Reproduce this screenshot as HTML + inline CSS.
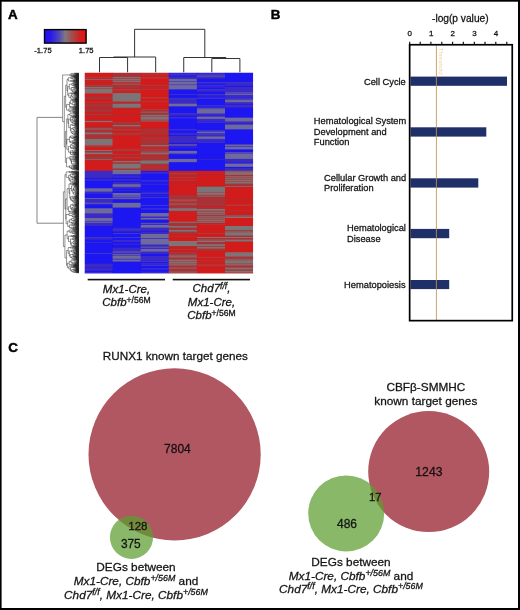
<!DOCTYPE html>
<html><head><meta charset="utf-8">
<style>
html,body{margin:0;padding:0;background:#fff;width:520px;height:610px;overflow:hidden}
svg{display:block;will-change:transform}
text{font-family:"Liberation Sans",sans-serif;fill:#141414;stroke:#141414;stroke-width:0.28px}
.b{font-weight:bold;fill:#000;stroke:#000;stroke-width:0.45px}
.i{font-style:italic}
</style></head><body>
<svg width="520" height="610" viewBox="0 0 520 610">
<defs>
<linearGradient id="cb" x1="0" x2="1" y1="0" y2="0">
<stop offset="0" stop-color="#2010f4"/>
<stop offset="0.15" stop-color="#2a18ec"/>
<stop offset="0.35" stop-color="#5048b8"/>
<stop offset="0.5" stop-color="#807880"/>
<stop offset="0.65" stop-color="#a05050"/>
<stop offset="0.85" stop-color="#d02020"/>
<stop offset="1" stop-color="#e81010"/>
</linearGradient>
</defs>
<rect width="520" height="610" fill="#fff"/>

<!-- ===== Panel A ===== -->
<text class="b" x="8.1" y="18.8" font-size="13.4">A</text>
<rect x="44.5" y="29.6" width="41.6" height="13.5" fill="url(#cb)" stroke="#000" stroke-width="1.4"/>
<text x="34.3" y="52.6" font-size="7.6">-1.75</text>
<text x="93.6" y="52.6" font-size="7.6" text-anchor="end">1.75</text>

<clipPath id="hc"><rect x="84.5" y="72.5" width="168.60" height="200.90"/></clipPath>
<filter id="hb" x="-0.05" y="-0.05" width="1.1" height="1.1"><feGaussianBlur stdDeviation="0.45"/></filter>
<g clip-path="url(#hc)"><g filter="url(#hb)">
<rect x="84.50" y="72.50" width="28.70" height="4.50" fill="#d21a1c"/>
<rect x="84.50" y="76.50" width="28.70" height="1.30" fill="#a83234"/>
<rect x="84.50" y="77.30" width="28.70" height="2.10" fill="#d21a1c"/>
<rect x="84.50" y="78.90" width="28.70" height="1.30" fill="#7c7478"/>
<rect x="84.50" y="79.70" width="28.70" height="1.30" fill="#a83234"/>
<rect x="84.50" y="80.50" width="28.70" height="3.70" fill="#d21a1c"/>
<rect x="84.50" y="83.70" width="28.70" height="1.30" fill="#a83234"/>
<rect x="84.50" y="84.50" width="28.70" height="1.30" fill="#d21a1c"/>
<rect x="84.50" y="85.30" width="28.70" height="2.10" fill="#a83234"/>
<rect x="84.50" y="86.90" width="28.70" height="2.10" fill="#7c7478"/>
<rect x="84.50" y="88.50" width="28.70" height="1.30" fill="#a83234"/>
<rect x="84.50" y="89.30" width="28.70" height="4.50" fill="#7c7478"/>
<rect x="84.50" y="93.30" width="28.70" height="3.70" fill="#d21a1c"/>
<rect x="84.50" y="96.50" width="28.70" height="3.70" fill="#a83234"/>
<rect x="84.50" y="99.70" width="28.70" height="2.90" fill="#d21a1c"/>
<rect x="84.50" y="102.10" width="28.70" height="1.30" fill="#a83234"/>
<rect x="84.50" y="102.90" width="28.70" height="1.30" fill="#d21a1c"/>
<rect x="84.50" y="103.70" width="28.70" height="4.50" fill="#a83234"/>
<rect x="84.50" y="107.70" width="28.70" height="1.30" fill="#d21a1c"/>
<rect x="84.50" y="108.50" width="28.70" height="4.50" fill="#a83234"/>
<rect x="84.50" y="112.50" width="28.70" height="2.10" fill="#d21a1c"/>
<rect x="84.50" y="114.10" width="28.70" height="2.10" fill="#a83234"/>
<rect x="84.50" y="115.70" width="28.70" height="4.50" fill="#d21a1c"/>
<rect x="84.50" y="119.70" width="28.70" height="2.10" fill="#a83234"/>
<rect x="84.50" y="121.30" width="28.70" height="1.30" fill="#7c7478"/>
<rect x="84.50" y="122.10" width="28.70" height="5.30" fill="#d21a1c"/>
<rect x="84.50" y="126.90" width="28.70" height="2.10" fill="#a83234"/>
<rect x="84.50" y="128.50" width="28.70" height="1.30" fill="#7c7478"/>
<rect x="84.50" y="129.30" width="28.70" height="3.70" fill="#a83234"/>
<rect x="84.50" y="132.50" width="28.70" height="2.10" fill="#7c7478"/>
<rect x="84.50" y="134.10" width="28.70" height="5.30" fill="#a83234"/>
<rect x="84.50" y="138.90" width="28.70" height="6.90" fill="#7c7478"/>
<rect x="84.50" y="145.30" width="28.70" height="1.30" fill="#d21a1c"/>
<rect x="84.50" y="146.10" width="28.70" height="2.10" fill="#a83234"/>
<rect x="84.50" y="147.70" width="28.70" height="2.90" fill="#d21a1c"/>
<rect x="84.50" y="150.10" width="28.70" height="1.30" fill="#7c7478"/>
<rect x="84.50" y="150.90" width="28.70" height="2.10" fill="#a83234"/>
<rect x="84.50" y="152.50" width="28.70" height="2.10" fill="#7c7478"/>
<rect x="84.50" y="154.10" width="28.70" height="1.30" fill="#a83234"/>
<rect x="84.50" y="154.90" width="28.70" height="1.30" fill="#d21a1c"/>
<rect x="84.50" y="155.70" width="28.70" height="3.70" fill="#a83234"/>
<rect x="84.50" y="158.90" width="28.70" height="1.30" fill="#7c7478"/>
<rect x="84.50" y="159.70" width="28.70" height="1.30" fill="#a83234"/>
<rect x="84.50" y="160.50" width="28.70" height="10.80" fill="#d21a1c"/>
<rect x="112.60" y="72.50" width="28.70" height="5.30" fill="#a83234"/>
<rect x="112.60" y="77.30" width="28.70" height="1.30" fill="#7c7478"/>
<rect x="112.60" y="78.10" width="28.70" height="1.30" fill="#a83234"/>
<rect x="112.60" y="78.90" width="28.70" height="2.10" fill="#7c7478"/>
<rect x="112.60" y="80.50" width="28.70" height="1.30" fill="#a83234"/>
<rect x="112.60" y="81.30" width="28.70" height="1.30" fill="#7c7478"/>
<rect x="112.60" y="82.10" width="28.70" height="1.30" fill="#d21a1c"/>
<rect x="112.60" y="82.90" width="28.70" height="1.30" fill="#a83234"/>
<rect x="112.60" y="83.70" width="28.70" height="1.30" fill="#7c7478"/>
<rect x="112.60" y="84.50" width="28.70" height="4.50" fill="#a83234"/>
<rect x="112.60" y="88.50" width="28.70" height="1.30" fill="#d21a1c"/>
<rect x="112.60" y="89.30" width="28.70" height="1.30" fill="#a83234"/>
<rect x="112.60" y="90.10" width="28.70" height="1.30" fill="#d21a1c"/>
<rect x="112.60" y="90.90" width="28.70" height="2.10" fill="#a83234"/>
<rect x="112.60" y="92.50" width="28.70" height="1.30" fill="#d21a1c"/>
<rect x="112.60" y="93.30" width="28.70" height="8.50" fill="#7c7478"/>
<rect x="112.60" y="101.30" width="28.70" height="2.10" fill="#a83234"/>
<rect x="112.60" y="102.90" width="28.70" height="1.30" fill="#d21a1c"/>
<rect x="112.60" y="103.70" width="28.70" height="4.50" fill="#7c7478"/>
<rect x="112.60" y="107.70" width="28.70" height="1.30" fill="#a83234"/>
<rect x="112.60" y="108.50" width="28.70" height="6.90" fill="#d21a1c"/>
<rect x="112.60" y="114.90" width="28.70" height="1.30" fill="#a83234"/>
<rect x="112.60" y="115.70" width="28.70" height="6.90" fill="#d21a1c"/>
<rect x="112.60" y="122.10" width="28.70" height="3.70" fill="#a83234"/>
<rect x="112.60" y="125.30" width="28.70" height="1.30" fill="#7c7478"/>
<rect x="112.60" y="126.10" width="28.70" height="2.90" fill="#a83234"/>
<rect x="112.60" y="128.50" width="28.70" height="1.30" fill="#d21a1c"/>
<rect x="112.60" y="129.30" width="28.70" height="1.30" fill="#a83234"/>
<rect x="112.60" y="130.10" width="28.70" height="1.30" fill="#d21a1c"/>
<rect x="112.60" y="130.90" width="28.70" height="1.30" fill="#a83234"/>
<rect x="112.60" y="131.70" width="28.70" height="1.30" fill="#d21a1c"/>
<rect x="112.60" y="132.50" width="28.70" height="1.30" fill="#a83234"/>
<rect x="112.60" y="133.30" width="28.70" height="1.30" fill="#d21a1c"/>
<rect x="112.60" y="134.10" width="28.70" height="2.10" fill="#a83234"/>
<rect x="112.60" y="135.70" width="28.70" height="13.30" fill="#d21a1c"/>
<rect x="112.60" y="148.50" width="28.70" height="1.30" fill="#a83234"/>
<rect x="112.60" y="149.30" width="28.70" height="1.30" fill="#d21a1c"/>
<rect x="112.60" y="150.10" width="28.70" height="2.10" fill="#a83234"/>
<rect x="112.60" y="151.70" width="28.70" height="2.90" fill="#d21a1c"/>
<rect x="112.60" y="154.10" width="28.70" height="2.10" fill="#a83234"/>
<rect x="112.60" y="155.70" width="28.70" height="2.10" fill="#d21a1c"/>
<rect x="112.60" y="157.30" width="28.70" height="2.10" fill="#a83234"/>
<rect x="112.60" y="158.90" width="28.70" height="2.10" fill="#d21a1c"/>
<rect x="112.60" y="160.50" width="28.70" height="1.30" fill="#a83234"/>
<rect x="112.60" y="161.30" width="28.70" height="1.30" fill="#7c7478"/>
<rect x="112.60" y="162.10" width="28.70" height="2.10" fill="#a83234"/>
<rect x="112.60" y="163.70" width="28.70" height="5.30" fill="#7c7478"/>
<rect x="112.60" y="168.50" width="28.70" height="2.10" fill="#a83234"/>
<rect x="112.60" y="170.10" width="28.70" height="1.20" fill="#7c7478"/>
<rect x="140.70" y="72.50" width="28.70" height="2.10" fill="#a83234"/>
<rect x="140.70" y="74.10" width="28.70" height="2.10" fill="#d21a1c"/>
<rect x="140.70" y="75.70" width="28.70" height="1.30" fill="#a83234"/>
<rect x="140.70" y="76.50" width="28.70" height="1.30" fill="#d21a1c"/>
<rect x="140.70" y="77.30" width="28.70" height="1.30" fill="#a83234"/>
<rect x="140.70" y="78.10" width="28.70" height="6.90" fill="#d21a1c"/>
<rect x="140.70" y="84.50" width="28.70" height="1.30" fill="#a83234"/>
<rect x="140.70" y="85.30" width="28.70" height="2.10" fill="#d21a1c"/>
<rect x="140.70" y="86.90" width="28.70" height="1.30" fill="#a83234"/>
<rect x="140.70" y="87.70" width="28.70" height="1.30" fill="#d21a1c"/>
<rect x="140.70" y="88.50" width="28.70" height="1.30" fill="#a83234"/>
<rect x="140.70" y="89.30" width="28.70" height="8.50" fill="#d21a1c"/>
<rect x="140.70" y="97.30" width="28.70" height="1.30" fill="#a83234"/>
<rect x="140.70" y="98.10" width="28.70" height="2.90" fill="#d21a1c"/>
<rect x="140.70" y="100.50" width="28.70" height="1.30" fill="#a83234"/>
<rect x="140.70" y="101.30" width="28.70" height="8.50" fill="#d21a1c"/>
<rect x="140.70" y="109.30" width="28.70" height="2.90" fill="#a83234"/>
<rect x="140.70" y="111.70" width="28.70" height="1.30" fill="#7c7478"/>
<rect x="140.70" y="112.50" width="28.70" height="2.90" fill="#a83234"/>
<rect x="140.70" y="114.90" width="28.70" height="2.10" fill="#7c7478"/>
<rect x="140.70" y="116.50" width="28.70" height="1.30" fill="#a83234"/>
<rect x="140.70" y="117.30" width="28.70" height="2.90" fill="#7c7478"/>
<rect x="140.70" y="119.70" width="28.70" height="1.30" fill="#a83234"/>
<rect x="140.70" y="120.50" width="28.70" height="1.30" fill="#7c7478"/>
<rect x="140.70" y="121.30" width="28.70" height="7.70" fill="#d21a1c"/>
<rect x="140.70" y="128.50" width="28.70" height="2.10" fill="#a83234"/>
<rect x="140.70" y="130.10" width="28.70" height="1.30" fill="#d21a1c"/>
<rect x="140.70" y="130.90" width="28.70" height="4.50" fill="#a83234"/>
<rect x="140.70" y="134.90" width="28.70" height="2.10" fill="#d21a1c"/>
<rect x="140.70" y="136.50" width="28.70" height="2.10" fill="#a83234"/>
<rect x="140.70" y="138.10" width="28.70" height="1.30" fill="#d21a1c"/>
<rect x="140.70" y="138.90" width="28.70" height="6.90" fill="#a83234"/>
<rect x="140.70" y="145.30" width="28.70" height="1.30" fill="#7c7478"/>
<rect x="140.70" y="146.10" width="28.70" height="3.70" fill="#a83234"/>
<rect x="140.70" y="149.30" width="28.70" height="1.30" fill="#d21a1c"/>
<rect x="140.70" y="150.10" width="28.70" height="2.10" fill="#a83234"/>
<rect x="140.70" y="151.70" width="28.70" height="1.30" fill="#7c7478"/>
<rect x="140.70" y="152.50" width="28.70" height="1.30" fill="#a83234"/>
<rect x="140.70" y="153.30" width="28.70" height="1.30" fill="#7c7478"/>
<rect x="140.70" y="154.10" width="28.70" height="6.90" fill="#a83234"/>
<rect x="140.70" y="160.50" width="28.70" height="3.70" fill="#7c7478"/>
<rect x="140.70" y="163.70" width="28.70" height="2.90" fill="#a83234"/>
<rect x="140.70" y="166.10" width="28.70" height="1.30" fill="#d21a1c"/>
<rect x="140.70" y="166.90" width="28.70" height="3.70" fill="#a83234"/>
<rect x="140.70" y="170.10" width="28.70" height="1.20" fill="#d21a1c"/>
<rect x="168.80" y="72.50" width="28.70" height="1.30" fill="#3a2cc4"/>
<rect x="168.80" y="73.30" width="28.70" height="1.30" fill="#1c12f0"/>
<rect x="168.80" y="74.10" width="28.70" height="2.10" fill="#3a2cc4"/>
<rect x="168.80" y="75.70" width="28.70" height="1.30" fill="#1c12f0"/>
<rect x="168.80" y="76.50" width="28.70" height="2.90" fill="#3a2cc4"/>
<rect x="168.80" y="78.90" width="28.70" height="2.90" fill="#6e6a9a"/>
<rect x="168.80" y="81.30" width="28.70" height="1.30" fill="#3a2cc4"/>
<rect x="168.80" y="82.10" width="28.70" height="2.90" fill="#6e6a9a"/>
<rect x="168.80" y="84.50" width="28.70" height="1.30" fill="#3a2cc4"/>
<rect x="168.80" y="85.30" width="28.70" height="4.50" fill="#6e6a9a"/>
<rect x="168.80" y="89.30" width="28.70" height="5.30" fill="#1c12f0"/>
<rect x="168.80" y="94.10" width="28.70" height="1.30" fill="#3a2cc4"/>
<rect x="168.80" y="94.90" width="28.70" height="3.70" fill="#1c12f0"/>
<rect x="168.80" y="98.10" width="28.70" height="6.10" fill="#3a2cc4"/>
<rect x="168.80" y="103.70" width="28.70" height="2.90" fill="#6e6a9a"/>
<rect x="168.80" y="106.10" width="28.70" height="1.30" fill="#3a2cc4"/>
<rect x="168.80" y="106.90" width="28.70" height="6.90" fill="#1c12f0"/>
<rect x="168.80" y="113.30" width="28.70" height="2.90" fill="#3a2cc4"/>
<rect x="168.80" y="115.70" width="28.70" height="2.10" fill="#1c12f0"/>
<rect x="168.80" y="117.30" width="28.70" height="1.30" fill="#3a2cc4"/>
<rect x="168.80" y="118.10" width="28.70" height="11.70" fill="#1c12f0"/>
<rect x="168.80" y="129.30" width="28.70" height="1.30" fill="#3a2cc4"/>
<rect x="168.80" y="130.10" width="28.70" height="2.90" fill="#1c12f0"/>
<rect x="168.80" y="132.50" width="28.70" height="1.30" fill="#3a2cc4"/>
<rect x="168.80" y="133.30" width="28.70" height="1.30" fill="#1c12f0"/>
<rect x="168.80" y="134.10" width="28.70" height="1.30" fill="#3a2cc4"/>
<rect x="168.80" y="134.90" width="28.70" height="1.30" fill="#1c12f0"/>
<rect x="168.80" y="135.70" width="28.70" height="7.70" fill="#3a2cc4"/>
<rect x="168.80" y="142.90" width="28.70" height="1.30" fill="#1c12f0"/>
<rect x="168.80" y="143.70" width="28.70" height="1.30" fill="#3a2cc4"/>
<rect x="168.80" y="144.50" width="28.70" height="1.30" fill="#6e6a9a"/>
<rect x="168.80" y="145.30" width="28.70" height="1.30" fill="#3a2cc4"/>
<rect x="168.80" y="146.10" width="28.70" height="1.30" fill="#1c12f0"/>
<rect x="168.80" y="146.90" width="28.70" height="1.30" fill="#3a2cc4"/>
<rect x="168.80" y="147.70" width="28.70" height="3.70" fill="#1c12f0"/>
<rect x="168.80" y="150.90" width="28.70" height="2.90" fill="#6e6a9a"/>
<rect x="168.80" y="153.30" width="28.70" height="1.30" fill="#3a2cc4"/>
<rect x="168.80" y="154.10" width="28.70" height="5.30" fill="#1c12f0"/>
<rect x="168.80" y="158.90" width="28.70" height="3.70" fill="#6e6a9a"/>
<rect x="168.80" y="162.10" width="28.70" height="9.20" fill="#1c12f0"/>
<rect x="196.90" y="72.50" width="28.70" height="1.30" fill="#3a2cc4"/>
<rect x="196.90" y="73.30" width="28.70" height="1.30" fill="#1c12f0"/>
<rect x="196.90" y="74.10" width="28.70" height="2.10" fill="#3a2cc4"/>
<rect x="196.90" y="75.70" width="28.70" height="1.30" fill="#6e6a9a"/>
<rect x="196.90" y="76.50" width="28.70" height="2.90" fill="#3a2cc4"/>
<rect x="196.90" y="78.90" width="28.70" height="3.70" fill="#1c12f0"/>
<rect x="196.90" y="82.10" width="28.70" height="2.10" fill="#3a2cc4"/>
<rect x="196.90" y="83.70" width="28.70" height="2.10" fill="#1c12f0"/>
<rect x="196.90" y="85.30" width="28.70" height="1.30" fill="#3a2cc4"/>
<rect x="196.90" y="86.10" width="28.70" height="1.30" fill="#1c12f0"/>
<rect x="196.90" y="86.90" width="28.70" height="1.30" fill="#3a2cc4"/>
<rect x="196.90" y="87.70" width="28.70" height="2.10" fill="#1c12f0"/>
<rect x="196.90" y="89.30" width="28.70" height="2.90" fill="#3a2cc4"/>
<rect x="196.90" y="91.70" width="28.70" height="2.90" fill="#1c12f0"/>
<rect x="196.90" y="94.10" width="28.70" height="2.10" fill="#3a2cc4"/>
<rect x="196.90" y="95.70" width="28.70" height="1.30" fill="#1c12f0"/>
<rect x="196.90" y="96.50" width="28.70" height="1.30" fill="#3a2cc4"/>
<rect x="196.90" y="97.30" width="28.70" height="1.30" fill="#1c12f0"/>
<rect x="196.90" y="98.10" width="28.70" height="1.30" fill="#3a2cc4"/>
<rect x="196.90" y="98.90" width="28.70" height="6.90" fill="#1c12f0"/>
<rect x="196.90" y="105.30" width="28.70" height="1.30" fill="#3a2cc4"/>
<rect x="196.90" y="106.10" width="28.70" height="2.10" fill="#1c12f0"/>
<rect x="196.90" y="107.70" width="28.70" height="1.30" fill="#6e6a9a"/>
<rect x="196.90" y="108.50" width="28.70" height="1.30" fill="#3a2cc4"/>
<rect x="196.90" y="109.30" width="28.70" height="4.50" fill="#6e6a9a"/>
<rect x="196.90" y="113.30" width="28.70" height="2.90" fill="#3a2cc4"/>
<rect x="196.90" y="115.70" width="28.70" height="1.30" fill="#1c12f0"/>
<rect x="196.90" y="116.50" width="28.70" height="2.90" fill="#6e6a9a"/>
<rect x="196.90" y="118.90" width="28.70" height="2.90" fill="#3a2cc4"/>
<rect x="196.90" y="121.30" width="28.70" height="1.30" fill="#1c12f0"/>
<rect x="196.90" y="122.10" width="28.70" height="1.30" fill="#3a2cc4"/>
<rect x="196.90" y="122.90" width="28.70" height="7.70" fill="#1c12f0"/>
<rect x="196.90" y="130.10" width="28.70" height="2.10" fill="#3a2cc4"/>
<rect x="196.90" y="131.70" width="28.70" height="2.10" fill="#6e6a9a"/>
<rect x="196.90" y="133.30" width="28.70" height="1.30" fill="#1c12f0"/>
<rect x="196.90" y="134.10" width="28.70" height="2.90" fill="#3a2cc4"/>
<rect x="196.90" y="136.50" width="28.70" height="2.90" fill="#6e6a9a"/>
<rect x="196.90" y="138.90" width="28.70" height="2.90" fill="#3a2cc4"/>
<rect x="196.90" y="141.30" width="28.70" height="1.30" fill="#1c12f0"/>
<rect x="196.90" y="142.10" width="28.70" height="1.30" fill="#3a2cc4"/>
<rect x="196.90" y="142.90" width="28.70" height="16.50" fill="#1c12f0"/>
<rect x="196.90" y="158.90" width="28.70" height="1.30" fill="#3a2cc4"/>
<rect x="196.90" y="159.70" width="28.70" height="11.60" fill="#1c12f0"/>
<rect x="225.00" y="72.50" width="28.70" height="10.10" fill="#1c12f0"/>
<rect x="225.00" y="82.10" width="28.70" height="3.70" fill="#3a2cc4"/>
<rect x="225.00" y="85.30" width="28.70" height="2.10" fill="#1c12f0"/>
<rect x="225.00" y="86.90" width="28.70" height="6.10" fill="#3a2cc4"/>
<rect x="225.00" y="92.50" width="28.70" height="1.30" fill="#6e6a9a"/>
<rect x="225.00" y="93.30" width="28.70" height="1.30" fill="#3a2cc4"/>
<rect x="225.00" y="94.10" width="28.70" height="1.30" fill="#6e6a9a"/>
<rect x="225.00" y="94.90" width="28.70" height="2.90" fill="#3a2cc4"/>
<rect x="225.00" y="97.30" width="28.70" height="1.30" fill="#1c12f0"/>
<rect x="225.00" y="98.10" width="28.70" height="2.10" fill="#3a2cc4"/>
<rect x="225.00" y="99.70" width="28.70" height="2.90" fill="#6e6a9a"/>
<rect x="225.00" y="102.10" width="28.70" height="2.90" fill="#3a2cc4"/>
<rect x="225.00" y="104.50" width="28.70" height="1.30" fill="#1c12f0"/>
<rect x="225.00" y="105.30" width="28.70" height="2.90" fill="#3a2cc4"/>
<rect x="225.00" y="107.70" width="28.70" height="10.10" fill="#1c12f0"/>
<rect x="225.00" y="117.30" width="28.70" height="1.30" fill="#3a2cc4"/>
<rect x="225.00" y="118.10" width="28.70" height="3.70" fill="#6e6a9a"/>
<rect x="225.00" y="121.30" width="28.70" height="2.90" fill="#3a2cc4"/>
<rect x="225.00" y="123.70" width="28.70" height="1.30" fill="#1c12f0"/>
<rect x="225.00" y="124.50" width="28.70" height="5.30" fill="#6e6a9a"/>
<rect x="225.00" y="129.30" width="28.70" height="15.70" fill="#1c12f0"/>
<rect x="225.00" y="144.50" width="28.70" height="2.10" fill="#6e6a9a"/>
<rect x="225.00" y="146.10" width="28.70" height="1.30" fill="#3a2cc4"/>
<rect x="225.00" y="146.90" width="28.70" height="2.90" fill="#6e6a9a"/>
<rect x="225.00" y="149.30" width="28.70" height="2.90" fill="#1c12f0"/>
<rect x="225.00" y="151.70" width="28.70" height="1.30" fill="#3a2cc4"/>
<rect x="225.00" y="152.50" width="28.70" height="1.30" fill="#6e6a9a"/>
<rect x="225.00" y="153.30" width="28.70" height="1.30" fill="#3a2cc4"/>
<rect x="225.00" y="154.10" width="28.70" height="5.30" fill="#6e6a9a"/>
<rect x="225.00" y="158.90" width="28.70" height="3.70" fill="#3a2cc4"/>
<rect x="225.00" y="162.10" width="28.70" height="1.30" fill="#1c12f0"/>
<rect x="225.00" y="162.90" width="28.70" height="1.30" fill="#3a2cc4"/>
<rect x="225.00" y="163.70" width="28.70" height="3.70" fill="#6e6a9a"/>
<rect x="225.00" y="166.90" width="28.70" height="1.30" fill="#1c12f0"/>
<rect x="225.00" y="167.70" width="28.70" height="3.60" fill="#3a2cc4"/>
<rect x="84.50" y="170.80" width="28.70" height="7.70" fill="#3a2cc4"/>
<rect x="84.50" y="178.00" width="28.70" height="1.30" fill="#1c12f0"/>
<rect x="84.50" y="178.80" width="28.70" height="2.10" fill="#3a2cc4"/>
<rect x="84.50" y="180.40" width="28.70" height="8.50" fill="#1c12f0"/>
<rect x="84.50" y="188.40" width="28.70" height="3.70" fill="#6e6a9a"/>
<rect x="84.50" y="191.60" width="28.70" height="2.10" fill="#3a2cc4"/>
<rect x="84.50" y="193.20" width="28.70" height="5.30" fill="#1c12f0"/>
<rect x="84.50" y="198.00" width="28.70" height="1.30" fill="#6e6a9a"/>
<rect x="84.50" y="198.80" width="28.70" height="4.50" fill="#3a2cc4"/>
<rect x="84.50" y="202.80" width="28.70" height="1.30" fill="#6e6a9a"/>
<rect x="84.50" y="203.60" width="28.70" height="1.30" fill="#3a2cc4"/>
<rect x="84.50" y="204.40" width="28.70" height="4.50" fill="#1c12f0"/>
<rect x="84.50" y="208.40" width="28.70" height="5.30" fill="#6e6a9a"/>
<rect x="84.50" y="213.20" width="28.70" height="5.30" fill="#3a2cc4"/>
<rect x="84.50" y="218.00" width="28.70" height="3.70" fill="#6e6a9a"/>
<rect x="84.50" y="221.20" width="28.70" height="1.30" fill="#3a2cc4"/>
<rect x="84.50" y="222.00" width="28.70" height="1.30" fill="#6e6a9a"/>
<rect x="84.50" y="222.80" width="28.70" height="3.70" fill="#3a2cc4"/>
<rect x="84.50" y="226.00" width="28.70" height="11.70" fill="#1c12f0"/>
<rect x="84.50" y="237.20" width="28.70" height="2.90" fill="#3a2cc4"/>
<rect x="84.50" y="239.60" width="28.70" height="2.90" fill="#1c12f0"/>
<rect x="84.50" y="242.00" width="28.70" height="1.30" fill="#3a2cc4"/>
<rect x="84.50" y="242.80" width="28.70" height="10.90" fill="#1c12f0"/>
<rect x="84.50" y="253.20" width="28.70" height="1.30" fill="#3a2cc4"/>
<rect x="84.50" y="254.00" width="28.70" height="10.10" fill="#1c12f0"/>
<rect x="84.50" y="263.60" width="28.70" height="4.50" fill="#3a2cc4"/>
<rect x="84.50" y="267.60" width="28.70" height="1.30" fill="#1c12f0"/>
<rect x="84.50" y="268.40" width="28.70" height="2.90" fill="#3a2cc4"/>
<rect x="84.50" y="270.80" width="28.70" height="2.10" fill="#1c12f0"/>
<rect x="84.50" y="272.40" width="28.70" height="1.30" fill="#3a2cc4"/>
<rect x="84.50" y="273.20" width="28.70" height="0.70" fill="#1c12f0"/>
<rect x="112.60" y="170.80" width="28.70" height="3.70" fill="#6e6a9a"/>
<rect x="112.60" y="174.00" width="28.70" height="2.10" fill="#3a2cc4"/>
<rect x="112.60" y="175.60" width="28.70" height="1.30" fill="#1c12f0"/>
<rect x="112.60" y="176.40" width="28.70" height="1.30" fill="#3a2cc4"/>
<rect x="112.60" y="177.20" width="28.70" height="2.10" fill="#1c12f0"/>
<rect x="112.60" y="178.80" width="28.70" height="2.10" fill="#3a2cc4"/>
<rect x="112.60" y="180.40" width="28.70" height="2.10" fill="#1c12f0"/>
<rect x="112.60" y="182.00" width="28.70" height="2.90" fill="#3a2cc4"/>
<rect x="112.60" y="184.40" width="28.70" height="2.90" fill="#6e6a9a"/>
<rect x="112.60" y="186.80" width="28.70" height="2.10" fill="#3a2cc4"/>
<rect x="112.60" y="188.40" width="28.70" height="2.10" fill="#1c12f0"/>
<rect x="112.60" y="190.00" width="28.70" height="1.30" fill="#3a2cc4"/>
<rect x="112.60" y="190.80" width="28.70" height="2.90" fill="#1c12f0"/>
<rect x="112.60" y="193.20" width="28.70" height="2.90" fill="#6e6a9a"/>
<rect x="112.60" y="195.60" width="28.70" height="1.30" fill="#3a2cc4"/>
<rect x="112.60" y="196.40" width="28.70" height="1.30" fill="#6e6a9a"/>
<rect x="112.60" y="197.20" width="28.70" height="1.30" fill="#3a2cc4"/>
<rect x="112.60" y="198.00" width="28.70" height="1.30" fill="#6e6a9a"/>
<rect x="112.60" y="198.80" width="28.70" height="1.30" fill="#3a2cc4"/>
<rect x="112.60" y="199.60" width="28.70" height="3.70" fill="#1c12f0"/>
<rect x="112.60" y="202.80" width="28.70" height="5.30" fill="#6e6a9a"/>
<rect x="112.60" y="207.60" width="28.70" height="20.50" fill="#1c12f0"/>
<rect x="112.60" y="227.60" width="28.70" height="1.30" fill="#3a2cc4"/>
<rect x="112.60" y="228.40" width="28.70" height="1.30" fill="#1c12f0"/>
<rect x="112.60" y="229.20" width="28.70" height="2.90" fill="#3a2cc4"/>
<rect x="112.60" y="231.60" width="28.70" height="2.10" fill="#1c12f0"/>
<rect x="112.60" y="233.20" width="28.70" height="1.30" fill="#3a2cc4"/>
<rect x="112.60" y="234.00" width="28.70" height="3.70" fill="#1c12f0"/>
<rect x="112.60" y="237.20" width="28.70" height="1.30" fill="#3a2cc4"/>
<rect x="112.60" y="238.00" width="28.70" height="2.90" fill="#1c12f0"/>
<rect x="112.60" y="240.40" width="28.70" height="2.10" fill="#3a2cc4"/>
<rect x="112.60" y="242.00" width="28.70" height="2.10" fill="#1c12f0"/>
<rect x="112.60" y="243.60" width="28.70" height="1.30" fill="#3a2cc4"/>
<rect x="112.60" y="244.40" width="28.70" height="3.70" fill="#1c12f0"/>
<rect x="112.60" y="247.60" width="28.70" height="4.50" fill="#3a2cc4"/>
<rect x="112.60" y="251.60" width="28.70" height="1.30" fill="#6e6a9a"/>
<rect x="112.60" y="252.40" width="28.70" height="2.10" fill="#3a2cc4"/>
<rect x="112.60" y="254.00" width="28.70" height="1.30" fill="#6e6a9a"/>
<rect x="112.60" y="254.80" width="28.70" height="1.30" fill="#3a2cc4"/>
<rect x="112.60" y="255.60" width="28.70" height="3.70" fill="#6e6a9a"/>
<rect x="112.60" y="258.80" width="28.70" height="1.30" fill="#3a2cc4"/>
<rect x="112.60" y="259.60" width="28.70" height="2.10" fill="#6e6a9a"/>
<rect x="112.60" y="261.20" width="28.70" height="1.30" fill="#3a2cc4"/>
<rect x="112.60" y="262.00" width="28.70" height="11.90" fill="#1c12f0"/>
<rect x="140.70" y="170.80" width="28.70" height="1.30" fill="#1c12f0"/>
<rect x="140.70" y="171.60" width="28.70" height="2.10" fill="#3a2cc4"/>
<rect x="140.70" y="173.20" width="28.70" height="7.70" fill="#1c12f0"/>
<rect x="140.70" y="180.40" width="28.70" height="1.30" fill="#3a2cc4"/>
<rect x="140.70" y="181.20" width="28.70" height="2.90" fill="#1c12f0"/>
<rect x="140.70" y="183.60" width="28.70" height="1.30" fill="#3a2cc4"/>
<rect x="140.70" y="184.40" width="28.70" height="7.70" fill="#1c12f0"/>
<rect x="140.70" y="191.60" width="28.70" height="1.30" fill="#3a2cc4"/>
<rect x="140.70" y="192.40" width="28.70" height="1.30" fill="#1c12f0"/>
<rect x="140.70" y="193.20" width="28.70" height="1.30" fill="#3a2cc4"/>
<rect x="140.70" y="194.00" width="28.70" height="1.30" fill="#1c12f0"/>
<rect x="140.70" y="194.80" width="28.70" height="1.30" fill="#3a2cc4"/>
<rect x="140.70" y="195.60" width="28.70" height="2.10" fill="#1c12f0"/>
<rect x="140.70" y="197.20" width="28.70" height="1.30" fill="#3a2cc4"/>
<rect x="140.70" y="198.00" width="28.70" height="7.70" fill="#1c12f0"/>
<rect x="140.70" y="205.20" width="28.70" height="1.30" fill="#3a2cc4"/>
<rect x="140.70" y="206.00" width="28.70" height="2.90" fill="#1c12f0"/>
<rect x="140.70" y="208.40" width="28.70" height="1.30" fill="#3a2cc4"/>
<rect x="140.70" y="209.20" width="28.70" height="4.50" fill="#1c12f0"/>
<rect x="140.70" y="213.20" width="28.70" height="3.70" fill="#6e6a9a"/>
<rect x="140.70" y="216.40" width="28.70" height="2.10" fill="#3a2cc4"/>
<rect x="140.70" y="218.00" width="28.70" height="2.10" fill="#6e6a9a"/>
<rect x="140.70" y="219.60" width="28.70" height="3.70" fill="#1c12f0"/>
<rect x="140.70" y="222.80" width="28.70" height="1.30" fill="#6e6a9a"/>
<rect x="140.70" y="223.60" width="28.70" height="2.10" fill="#3a2cc4"/>
<rect x="140.70" y="225.20" width="28.70" height="2.90" fill="#6e6a9a"/>
<rect x="140.70" y="227.60" width="28.70" height="3.70" fill="#3a2cc4"/>
<rect x="140.70" y="230.80" width="28.70" height="1.30" fill="#1c12f0"/>
<rect x="140.70" y="231.60" width="28.70" height="2.90" fill="#3a2cc4"/>
<rect x="140.70" y="234.00" width="28.70" height="4.50" fill="#6e6a9a"/>
<rect x="140.70" y="238.00" width="28.70" height="1.30" fill="#3a2cc4"/>
<rect x="140.70" y="238.80" width="28.70" height="6.10" fill="#6e6a9a"/>
<rect x="140.70" y="244.40" width="28.70" height="2.90" fill="#3a2cc4"/>
<rect x="140.70" y="246.80" width="28.70" height="1.30" fill="#6e6a9a"/>
<rect x="140.70" y="247.60" width="28.70" height="2.10" fill="#3a2cc4"/>
<rect x="140.70" y="249.20" width="28.70" height="2.90" fill="#6e6a9a"/>
<rect x="140.70" y="251.60" width="28.70" height="2.90" fill="#3a2cc4"/>
<rect x="140.70" y="254.00" width="28.70" height="2.90" fill="#1c12f0"/>
<rect x="140.70" y="256.40" width="28.70" height="4.50" fill="#3a2cc4"/>
<rect x="140.70" y="260.40" width="28.70" height="1.30" fill="#1c12f0"/>
<rect x="140.70" y="261.20" width="28.70" height="1.30" fill="#3a2cc4"/>
<rect x="140.70" y="262.00" width="28.70" height="1.30" fill="#1c12f0"/>
<rect x="140.70" y="262.80" width="28.70" height="2.10" fill="#3a2cc4"/>
<rect x="140.70" y="264.40" width="28.70" height="1.30" fill="#1c12f0"/>
<rect x="140.70" y="265.20" width="28.70" height="1.30" fill="#3a2cc4"/>
<rect x="140.70" y="266.00" width="28.70" height="2.90" fill="#1c12f0"/>
<rect x="140.70" y="268.40" width="28.70" height="1.30" fill="#3a2cc4"/>
<rect x="140.70" y="269.20" width="28.70" height="2.90" fill="#1c12f0"/>
<rect x="140.70" y="271.60" width="28.70" height="2.30" fill="#3a2cc4"/>
<rect x="168.80" y="170.80" width="28.70" height="1.30" fill="#a83234"/>
<rect x="168.80" y="171.60" width="28.70" height="2.10" fill="#d21a1c"/>
<rect x="168.80" y="173.20" width="28.70" height="2.90" fill="#a83234"/>
<rect x="168.80" y="175.60" width="28.70" height="2.10" fill="#d21a1c"/>
<rect x="168.80" y="177.20" width="28.70" height="1.30" fill="#a83234"/>
<rect x="168.80" y="178.00" width="28.70" height="1.30" fill="#d21a1c"/>
<rect x="168.80" y="178.80" width="28.70" height="2.10" fill="#a83234"/>
<rect x="168.80" y="180.40" width="28.70" height="2.90" fill="#d21a1c"/>
<rect x="168.80" y="182.80" width="28.70" height="1.30" fill="#a83234"/>
<rect x="168.80" y="183.60" width="28.70" height="11.70" fill="#d21a1c"/>
<rect x="168.80" y="194.80" width="28.70" height="5.30" fill="#a83234"/>
<rect x="168.80" y="199.60" width="28.70" height="1.30" fill="#7c7478"/>
<rect x="168.80" y="200.40" width="28.70" height="1.30" fill="#a83234"/>
<rect x="168.80" y="201.20" width="28.70" height="1.30" fill="#d21a1c"/>
<rect x="168.80" y="202.00" width="28.70" height="2.10" fill="#a83234"/>
<rect x="168.80" y="203.60" width="28.70" height="1.30" fill="#7c7478"/>
<rect x="168.80" y="204.40" width="28.70" height="4.50" fill="#a83234"/>
<rect x="168.80" y="208.40" width="28.70" height="2.90" fill="#7c7478"/>
<rect x="168.80" y="210.80" width="28.70" height="1.30" fill="#a83234"/>
<rect x="168.80" y="211.60" width="28.70" height="10.10" fill="#d21a1c"/>
<rect x="168.80" y="221.20" width="28.70" height="1.30" fill="#a83234"/>
<rect x="168.80" y="222.00" width="28.70" height="1.30" fill="#7c7478"/>
<rect x="168.80" y="222.80" width="28.70" height="3.70" fill="#a83234"/>
<rect x="168.80" y="226.00" width="28.70" height="2.10" fill="#7c7478"/>
<rect x="168.80" y="227.60" width="28.70" height="2.90" fill="#a83234"/>
<rect x="168.80" y="230.00" width="28.70" height="2.10" fill="#7c7478"/>
<rect x="168.80" y="231.60" width="28.70" height="2.90" fill="#a83234"/>
<rect x="168.80" y="234.00" width="28.70" height="2.10" fill="#d21a1c"/>
<rect x="168.80" y="235.60" width="28.70" height="1.30" fill="#a83234"/>
<rect x="168.80" y="236.40" width="28.70" height="5.30" fill="#d21a1c"/>
<rect x="168.80" y="241.20" width="28.70" height="5.30" fill="#7c7478"/>
<rect x="168.80" y="246.00" width="28.70" height="1.30" fill="#a83234"/>
<rect x="168.80" y="246.80" width="28.70" height="2.90" fill="#d21a1c"/>
<rect x="168.80" y="249.20" width="28.70" height="1.30" fill="#a83234"/>
<rect x="168.80" y="250.00" width="28.70" height="1.30" fill="#d21a1c"/>
<rect x="168.80" y="250.80" width="28.70" height="1.30" fill="#a83234"/>
<rect x="168.80" y="251.60" width="28.70" height="1.30" fill="#d21a1c"/>
<rect x="168.80" y="252.40" width="28.70" height="2.90" fill="#a83234"/>
<rect x="168.80" y="254.80" width="28.70" height="1.30" fill="#7c7478"/>
<rect x="168.80" y="255.60" width="28.70" height="1.30" fill="#a83234"/>
<rect x="168.80" y="256.40" width="28.70" height="1.30" fill="#7c7478"/>
<rect x="168.80" y="257.20" width="28.70" height="2.90" fill="#a83234"/>
<rect x="168.80" y="259.60" width="28.70" height="2.10" fill="#7c7478"/>
<rect x="168.80" y="261.20" width="28.70" height="1.30" fill="#a83234"/>
<rect x="168.80" y="262.00" width="28.70" height="2.10" fill="#7c7478"/>
<rect x="168.80" y="263.60" width="28.70" height="1.30" fill="#a83234"/>
<rect x="168.80" y="264.40" width="28.70" height="1.30" fill="#7c7478"/>
<rect x="168.80" y="265.20" width="28.70" height="2.90" fill="#a83234"/>
<rect x="168.80" y="267.60" width="28.70" height="1.30" fill="#7c7478"/>
<rect x="168.80" y="268.40" width="28.70" height="3.70" fill="#a83234"/>
<rect x="168.80" y="271.60" width="28.70" height="1.30" fill="#7c7478"/>
<rect x="168.80" y="272.40" width="28.70" height="1.50" fill="#a83234"/>
<rect x="196.90" y="170.80" width="28.70" height="4.50" fill="#d21a1c"/>
<rect x="196.90" y="174.80" width="28.70" height="1.30" fill="#a83234"/>
<rect x="196.90" y="175.60" width="28.70" height="10.90" fill="#d21a1c"/>
<rect x="196.90" y="186.00" width="28.70" height="1.30" fill="#a83234"/>
<rect x="196.90" y="186.80" width="28.70" height="6.10" fill="#7c7478"/>
<rect x="196.90" y="192.40" width="28.70" height="1.30" fill="#a83234"/>
<rect x="196.90" y="193.20" width="28.70" height="2.10" fill="#7c7478"/>
<rect x="196.90" y="194.80" width="28.70" height="1.30" fill="#a83234"/>
<rect x="196.90" y="195.60" width="28.70" height="1.30" fill="#7c7478"/>
<rect x="196.90" y="196.40" width="28.70" height="10.10" fill="#a83234"/>
<rect x="196.90" y="206.00" width="28.70" height="1.30" fill="#d21a1c"/>
<rect x="196.90" y="206.80" width="28.70" height="2.90" fill="#a83234"/>
<rect x="196.90" y="209.20" width="28.70" height="2.10" fill="#7c7478"/>
<rect x="196.90" y="210.80" width="28.70" height="1.30" fill="#a83234"/>
<rect x="196.90" y="211.60" width="28.70" height="2.10" fill="#7c7478"/>
<rect x="196.90" y="213.20" width="28.70" height="1.30" fill="#a83234"/>
<rect x="196.90" y="214.00" width="28.70" height="1.30" fill="#7c7478"/>
<rect x="196.90" y="214.80" width="28.70" height="2.10" fill="#a83234"/>
<rect x="196.90" y="216.40" width="28.70" height="1.30" fill="#7c7478"/>
<rect x="196.90" y="217.20" width="28.70" height="1.30" fill="#a83234"/>
<rect x="196.90" y="218.00" width="28.70" height="1.30" fill="#7c7478"/>
<rect x="196.90" y="218.80" width="28.70" height="1.30" fill="#a83234"/>
<rect x="196.90" y="219.60" width="28.70" height="2.10" fill="#7c7478"/>
<rect x="196.90" y="221.20" width="28.70" height="1.30" fill="#a83234"/>
<rect x="196.90" y="222.00" width="28.70" height="1.30" fill="#7c7478"/>
<rect x="196.90" y="222.80" width="28.70" height="1.30" fill="#d21a1c"/>
<rect x="196.90" y="223.60" width="28.70" height="1.30" fill="#a83234"/>
<rect x="196.90" y="224.40" width="28.70" height="9.30" fill="#d21a1c"/>
<rect x="196.90" y="233.20" width="28.70" height="1.30" fill="#a83234"/>
<rect x="196.90" y="234.00" width="28.70" height="3.70" fill="#d21a1c"/>
<rect x="196.90" y="237.20" width="28.70" height="1.30" fill="#7c7478"/>
<rect x="196.90" y="238.00" width="28.70" height="2.10" fill="#a83234"/>
<rect x="196.90" y="239.60" width="28.70" height="1.30" fill="#7c7478"/>
<rect x="196.90" y="240.40" width="28.70" height="1.30" fill="#a83234"/>
<rect x="196.90" y="241.20" width="28.70" height="1.30" fill="#7c7478"/>
<rect x="196.90" y="242.00" width="28.70" height="2.90" fill="#a83234"/>
<rect x="196.90" y="244.40" width="28.70" height="2.10" fill="#7c7478"/>
<rect x="196.90" y="246.00" width="28.70" height="1.30" fill="#a83234"/>
<rect x="196.90" y="246.80" width="28.70" height="2.10" fill="#7c7478"/>
<rect x="196.90" y="248.40" width="28.70" height="2.90" fill="#a83234"/>
<rect x="196.90" y="250.80" width="28.70" height="6.90" fill="#d21a1c"/>
<rect x="196.90" y="257.20" width="28.70" height="1.30" fill="#a83234"/>
<rect x="196.90" y="258.00" width="28.70" height="2.10" fill="#d21a1c"/>
<rect x="196.90" y="259.60" width="28.70" height="1.30" fill="#a83234"/>
<rect x="196.90" y="260.40" width="28.70" height="2.10" fill="#d21a1c"/>
<rect x="196.90" y="262.00" width="28.70" height="1.30" fill="#a83234"/>
<rect x="196.90" y="262.80" width="28.70" height="2.10" fill="#d21a1c"/>
<rect x="196.90" y="264.40" width="28.70" height="1.30" fill="#a83234"/>
<rect x="196.90" y="265.20" width="28.70" height="1.30" fill="#d21a1c"/>
<rect x="196.90" y="266.00" width="28.70" height="1.30" fill="#a83234"/>
<rect x="196.90" y="266.80" width="28.70" height="7.10" fill="#d21a1c"/>
<rect x="225.00" y="170.80" width="28.70" height="1.30" fill="#7c7478"/>
<rect x="225.00" y="171.60" width="28.70" height="1.30" fill="#a83234"/>
<rect x="225.00" y="172.40" width="28.70" height="2.90" fill="#7c7478"/>
<rect x="225.00" y="174.80" width="28.70" height="2.10" fill="#a83234"/>
<rect x="225.00" y="176.40" width="28.70" height="1.30" fill="#7c7478"/>
<rect x="225.00" y="177.20" width="28.70" height="1.30" fill="#a83234"/>
<rect x="225.00" y="178.00" width="28.70" height="1.30" fill="#7c7478"/>
<rect x="225.00" y="178.80" width="28.70" height="1.30" fill="#a83234"/>
<rect x="225.00" y="179.60" width="28.70" height="2.10" fill="#7c7478"/>
<rect x="225.00" y="181.20" width="28.70" height="1.30" fill="#a83234"/>
<rect x="225.00" y="182.00" width="28.70" height="2.10" fill="#7c7478"/>
<rect x="225.00" y="183.60" width="28.70" height="2.90" fill="#a83234"/>
<rect x="225.00" y="186.00" width="28.70" height="1.30" fill="#7c7478"/>
<rect x="225.00" y="186.80" width="28.70" height="12.50" fill="#d21a1c"/>
<rect x="225.00" y="198.80" width="28.70" height="1.30" fill="#a83234"/>
<rect x="225.00" y="199.60" width="28.70" height="4.50" fill="#d21a1c"/>
<rect x="225.00" y="203.60" width="28.70" height="1.30" fill="#a83234"/>
<rect x="225.00" y="204.40" width="28.70" height="1.30" fill="#d21a1c"/>
<rect x="225.00" y="205.20" width="28.70" height="1.30" fill="#a83234"/>
<rect x="225.00" y="206.00" width="28.70" height="4.50" fill="#d21a1c"/>
<rect x="225.00" y="210.00" width="28.70" height="1.30" fill="#a83234"/>
<rect x="225.00" y="210.80" width="28.70" height="4.50" fill="#d21a1c"/>
<rect x="225.00" y="214.80" width="28.70" height="1.30" fill="#a83234"/>
<rect x="225.00" y="215.60" width="28.70" height="1.30" fill="#7c7478"/>
<rect x="225.00" y="216.40" width="28.70" height="1.30" fill="#a83234"/>
<rect x="225.00" y="217.20" width="28.70" height="1.30" fill="#7c7478"/>
<rect x="225.00" y="218.00" width="28.70" height="8.50" fill="#d21a1c"/>
<rect x="225.00" y="226.00" width="28.70" height="4.50" fill="#7c7478"/>
<rect x="225.00" y="230.00" width="28.70" height="1.30" fill="#a83234"/>
<rect x="225.00" y="230.80" width="28.70" height="1.30" fill="#7c7478"/>
<rect x="225.00" y="231.60" width="28.70" height="1.30" fill="#a83234"/>
<rect x="225.00" y="232.40" width="28.70" height="3.70" fill="#7c7478"/>
<rect x="225.00" y="235.60" width="28.70" height="2.10" fill="#a83234"/>
<rect x="225.00" y="237.20" width="28.70" height="1.30" fill="#7c7478"/>
<rect x="225.00" y="238.00" width="28.70" height="2.10" fill="#a83234"/>
<rect x="225.00" y="239.60" width="28.70" height="2.10" fill="#7c7478"/>
<rect x="225.00" y="241.20" width="28.70" height="1.30" fill="#a83234"/>
<rect x="225.00" y="242.00" width="28.70" height="10.90" fill="#d21a1c"/>
<rect x="225.00" y="252.40" width="28.70" height="4.50" fill="#7c7478"/>
<rect x="225.00" y="256.40" width="28.70" height="2.90" fill="#a83234"/>
<rect x="225.00" y="258.80" width="28.70" height="1.30" fill="#7c7478"/>
<rect x="225.00" y="259.60" width="28.70" height="1.30" fill="#a83234"/>
<rect x="225.00" y="260.40" width="28.70" height="3.70" fill="#7c7478"/>
<rect x="225.00" y="263.60" width="28.70" height="1.30" fill="#a83234"/>
<rect x="225.00" y="264.40" width="28.70" height="1.30" fill="#7c7478"/>
<rect x="225.00" y="265.20" width="28.70" height="2.90" fill="#a83234"/>
<rect x="225.00" y="267.60" width="28.70" height="2.10" fill="#7c7478"/>
<rect x="225.00" y="269.20" width="28.70" height="2.10" fill="#a83234"/>
<rect x="225.00" y="270.80" width="28.70" height="2.10" fill="#7c7478"/>
<rect x="225.00" y="272.40" width="28.70" height="1.50" fill="#a83234"/>
</g></g>
<path d="M99.50 72.30L99.50 57.50M127.58 72.30L127.58 57.50M99.50 57.50L127.58 57.50M113.54 57.50L113.54 57.00M155.66 72.30L155.66 57.00M113.54 57.00L155.66 57.00M211.82 72.30L211.82 58.50M239.90 72.30L239.90 58.50M211.82 58.50L239.90 58.50M225.86 58.50L225.86 57.50M183.74 72.30L183.74 57.50M183.74 57.50L225.86 57.50M134.60 57.00L134.60 29.30M204.80 57.50L204.80 29.30M134.60 29.30L204.80 29.30" stroke="#333" stroke-width="1" fill="none"/>
<path d="M79.00 73.69L75.80 73.69L75.80 73.93L79.00 73.93M79.00 73.44L74.81 73.44L74.81 73.81L75.80 73.81M79.00 73.20L74.35 73.20L74.35 73.63L74.81 73.63M79.00 74.42L76.84 74.42L76.84 74.66L79.00 74.66M79.00 74.17L75.48 74.17L75.48 74.54L76.84 74.54M79.00 75.15L76.02 75.15L76.02 75.39L79.00 75.39M79.00 74.90L74.64 74.90L74.64 75.27L76.02 75.27M75.48 74.36L73.27 74.36L73.27 75.09L74.64 75.09M74.35 73.41L71.59 73.41L71.59 74.72L73.27 74.72M79.00 76.36L76.10 76.36L76.10 76.61L79.00 76.61M79.00 76.12L73.97 76.12L73.97 76.49L76.10 76.49M79.00 75.88L71.88 75.88L71.88 76.30L73.97 76.30M79.00 75.63L70.98 75.63L70.98 76.09L71.88 76.09M71.59 74.07L70.01 74.07L70.01 75.86L70.98 75.86M79.00 77.09L74.56 77.09L74.56 77.34L79.00 77.34M79.00 76.85L72.90 76.85L72.90 77.22L74.56 77.22M79.00 77.58L75.89 77.58L75.89 77.82L79.00 77.82M79.00 78.07L75.45 78.07L75.45 78.31L79.00 78.31M75.89 77.70L74.22 77.70L74.22 78.19L75.45 78.19M79.00 78.80L76.56 78.80L76.56 79.04L79.00 79.04M79.00 78.55L75.46 78.55L75.46 78.92L76.56 78.92M79.00 79.53L76.21 79.53L76.21 79.77L79.00 79.77M79.00 79.28L75.25 79.28L75.25 79.65L76.21 79.65M75.46 78.74L74.16 78.74L74.16 79.47L75.25 79.47M74.22 77.95L72.32 77.95L72.32 79.10L74.16 79.10M72.90 77.03L71.02 77.03L71.02 78.52L72.32 78.52M79.00 80.01L76.09 80.01L76.09 80.26L79.00 80.26M79.00 80.74L76.06 80.74L76.06 80.99L79.00 80.99M79.00 80.50L73.88 80.50L73.88 80.87L76.06 80.87M76.09 80.14L72.97 80.14L72.97 80.68L73.88 80.68M79.00 81.96L76.60 81.96L76.60 82.20L79.00 82.20M79.00 81.72L75.68 81.72L75.68 82.08L76.60 82.08M79.00 81.47L74.06 81.47L74.06 81.90L75.68 81.90M79.00 81.23L72.76 81.23L72.76 81.69L74.06 81.69M72.97 80.41L70.78 80.41L70.78 81.46L72.76 81.46M71.02 77.78L68.27 77.78L68.27 80.93L70.78 80.93M79.00 82.69L76.13 82.69L76.13 82.93L79.00 82.93M79.00 82.45L73.75 82.45L73.75 82.81L76.13 82.81M79.00 83.18L76.80 83.18L76.80 83.42L79.00 83.42M79.00 83.66L76.25 83.66L76.25 83.91L79.00 83.91M76.80 83.30L75.03 83.30L75.03 83.79L76.25 83.79M79.00 84.15L74.50 84.15L74.50 84.39L79.00 84.39M75.03 83.54L73.75 83.54L73.75 84.27L74.50 84.27M73.75 82.63L73.10 82.63L73.10 83.91L73.75 83.91M79.00 84.88L75.34 84.88L75.34 85.12L79.00 85.12M79.00 84.64L74.77 84.64L74.77 85.00L75.34 85.00M79.00 85.85L76.69 85.85L76.69 86.10L79.00 86.10M79.00 85.61L76.01 85.61L76.01 85.98L76.69 85.98M79.00 86.34L75.65 86.34L75.65 86.58L79.00 86.58M76.01 85.79L75.19 85.79L75.19 86.46L75.65 86.46M79.00 85.37L73.94 85.37L73.94 86.13L75.19 86.13M74.77 84.82L72.95 84.82L72.95 85.75L73.94 85.75M73.10 83.27L71.87 83.27L71.87 85.28L72.95 85.28M79.00 87.31L76.57 87.31L76.57 87.56L79.00 87.56M79.00 87.07L75.96 87.07L75.96 87.44L76.57 87.44M79.00 86.83L74.32 86.83L74.32 87.25L75.96 87.25M79.00 88.29L76.28 88.29L76.28 88.53L79.00 88.53M79.00 88.04L75.58 88.04L75.58 88.41L76.28 88.41M79.00 87.80L73.83 87.80L73.83 88.23L75.58 88.23M74.32 87.04L72.89 87.04L72.89 88.01L73.83 88.01M79.00 88.77L76.90 88.77L76.90 89.02L79.00 89.02M79.00 89.51L77.10 89.51L77.10 89.75L79.00 89.75M79.00 89.26L76.55 89.26L76.55 89.63L77.10 89.63M76.90 88.90L76.21 88.90L76.21 89.44L76.55 89.44M79.00 89.99L75.79 89.99L75.79 90.24L79.00 90.24M76.21 89.17L74.25 89.17L74.25 90.11L75.79 90.11M79.00 90.72L77.02 90.72L77.02 90.97L79.00 90.97M79.00 90.48L76.99 90.48L76.99 90.84L77.02 90.84M79.00 91.21L75.70 91.21L75.70 91.45L79.00 91.45M76.99 90.66L75.01 90.66L75.01 91.33L75.70 91.33M79.00 91.70L75.68 91.70L75.68 91.94L79.00 91.94M79.00 92.18L75.36 92.18L75.36 92.43L79.00 92.43M75.68 91.82L74.59 91.82L74.59 92.30L75.36 92.30M75.01 91.00L72.90 91.00L72.90 92.06L74.59 92.06M74.25 89.64L72.28 89.64L72.28 91.53L72.90 91.53M72.89 87.53L71.28 87.53L71.28 90.58L72.28 90.58M71.87 84.28L69.30 84.28L69.30 89.06L71.28 89.06M79.00 92.91L75.56 92.91L75.56 93.16L79.00 93.16M79.00 92.67L73.94 92.67L73.94 93.03L75.56 93.03M79.00 93.40L73.45 93.40L73.45 93.64L79.00 93.64M73.94 92.85L70.83 92.85L70.83 93.52L73.45 93.52M79.00 94.37L76.68 94.37L76.68 94.62L79.00 94.62M79.00 94.13L74.94 94.13L74.94 94.49L76.68 94.49M79.00 93.89L74.25 93.89L74.25 94.31L74.94 94.31M79.00 94.86L77.00 94.86L77.00 95.10L79.00 95.10M79.00 95.35L76.05 95.35L76.05 95.59L79.00 95.59M77.00 94.98L75.48 94.98L75.48 95.47L76.05 95.47M79.00 96.08L77.09 96.08L77.09 96.32L79.00 96.32M79.00 95.83L76.65 95.83L76.65 96.20L77.09 96.20M79.00 96.81L77.14 96.81L77.14 97.05L79.00 97.05M79.00 96.56L76.16 96.56L76.16 96.93L77.14 96.93M76.65 96.01L75.01 96.01L75.01 96.74L76.16 96.74M75.48 95.22L74.31 95.22L74.31 96.38L75.01 96.38M79.00 97.54L76.99 97.54L76.99 97.78L79.00 97.78M79.00 97.29L75.49 97.29L75.49 97.66L76.99 97.66M79.00 98.27L75.87 98.27L75.87 98.51L79.00 98.51M79.00 98.02L75.32 98.02L75.32 98.39L75.87 98.39M75.49 97.48L74.01 97.48L74.01 98.21L75.32 98.21M74.31 95.80L72.91 95.80L72.91 97.84L74.01 97.84M74.25 94.10L71.78 94.10L71.78 96.82L72.91 96.82M79.00 99.00L75.18 99.00L75.18 99.24L79.00 99.24M79.00 98.75L75.01 98.75L75.01 99.12L75.18 99.12M79.00 99.48L74.23 99.48L74.23 99.73L79.00 99.73M75.01 98.94L71.68 98.94L71.68 99.60L74.23 99.60M71.78 95.46L70.80 95.46L70.80 99.27L71.68 99.27M70.83 93.19L68.83 93.19L68.83 97.36L70.80 97.36M69.30 86.67L67.66 86.67L67.66 95.28L68.83 95.28M68.27 79.36L67.02 79.36L67.02 90.97L67.66 90.97M79.00 100.21L76.11 100.21L76.11 100.46L79.00 100.46M79.00 99.97L75.82 99.97L75.82 100.33L76.11 100.33M79.00 100.70L74.68 100.70L74.68 100.94L79.00 100.94M79.00 101.19L75.71 101.19L75.71 101.43L79.00 101.43M79.00 101.92L76.35 101.92L76.35 102.16L79.00 102.16M79.00 101.67L75.56 101.67L75.56 102.04L76.35 102.04M75.71 101.31L74.18 101.31L74.18 101.86L75.56 101.86M74.68 100.82L73.16 100.82L73.16 101.58L74.18 101.58M75.82 100.15L72.58 100.15L72.58 101.20L73.16 101.20M79.00 102.65L76.37 102.65L76.37 102.89L79.00 102.89M79.00 103.13L76.32 103.13L76.32 103.38L79.00 103.38M76.37 102.77L76.20 102.77L76.20 103.25L76.32 103.25M79.00 102.40L74.57 102.40L74.57 103.01L76.20 103.01M79.00 103.62L76.08 103.62L76.08 103.86L79.00 103.86M79.00 104.35L76.59 104.35L76.59 104.59L79.00 104.59M79.00 104.11L75.45 104.11L75.45 104.47L76.59 104.47M76.08 103.74L74.79 103.74L74.79 104.29L75.45 104.29M79.00 104.84L76.24 104.84L76.24 105.08L79.00 105.08M79.00 105.57L76.95 105.57L76.95 105.81L79.00 105.81M79.00 105.32L76.78 105.32L76.78 105.69L76.95 105.69M79.00 106.05L75.81 106.05L75.81 106.30L79.00 106.30M76.78 105.51L75.37 105.51L75.37 106.18L75.81 106.18M76.24 104.96L74.31 104.96L74.31 105.84L75.37 105.84M74.79 104.02L74.15 104.02L74.15 105.40L74.31 105.40M74.57 102.71L72.21 102.71L72.21 104.71L74.15 104.71M72.58 100.68L70.33 100.68L70.33 103.71L72.21 103.71M79.00 107.03L76.26 107.03L76.26 107.27L79.00 107.27M79.00 106.78L74.47 106.78L74.47 107.15L76.26 107.15M79.00 107.51L75.51 107.51L75.51 107.76L79.00 107.76M79.00 108.24L76.33 108.24L76.33 108.49L79.00 108.49M79.00 108.00L75.17 108.00L75.17 108.37L76.33 108.37M75.51 107.64L73.40 107.64L73.40 108.18L75.17 108.18M74.47 106.97L73.06 106.97L73.06 107.91L73.40 107.91M79.00 106.54L69.96 106.54L69.96 107.44L73.06 107.44M70.33 102.19L69.43 102.19L69.43 106.99L69.96 106.99M79.00 109.22L75.15 109.22L75.15 109.46L79.00 109.46M79.00 108.97L72.60 108.97L72.60 109.34L75.15 109.34M79.00 108.73L71.71 108.73L71.71 109.16L72.60 109.16M79.00 109.70L76.49 109.70L76.49 109.95L79.00 109.95M79.00 110.43L77.04 110.43L77.04 110.68L79.00 110.68M79.00 110.19L75.17 110.19L75.17 110.56L77.04 110.56M76.49 109.83L74.80 109.83L74.80 110.37L75.17 110.37M79.00 111.16L75.80 111.16L75.80 111.41L79.00 111.41M79.00 110.92L74.33 110.92L74.33 111.29L75.80 111.29M74.80 110.10L73.04 110.10L73.04 111.10L74.33 111.10M79.00 111.89L76.00 111.89L76.00 112.14L79.00 112.14M79.00 112.38L75.90 112.38L75.90 112.62L79.00 112.62M76.00 112.02L73.54 112.02L73.54 112.50L75.90 112.50M79.00 111.65L72.66 111.65L72.66 112.26L73.54 112.26M73.04 110.60L70.05 110.60L70.05 111.95L72.66 111.95M71.71 108.94L68.81 108.94L68.81 111.28L70.05 111.28M69.43 104.59L66.54 104.59L66.54 110.11L68.81 110.11M67.02 85.16L65.67 85.16L65.67 107.35L66.54 107.35M79.00 112.87L75.22 112.87L75.22 113.11L79.00 113.11M79.00 113.84L76.42 113.84L76.42 114.08L79.00 114.08M79.00 113.60L75.69 113.60L75.69 113.96L76.42 113.96M79.00 113.35L74.34 113.35L74.34 113.78L75.69 113.78M75.22 112.99L73.63 112.99L73.63 113.57L74.34 113.57M79.00 114.33L76.40 114.33L76.40 114.57L79.00 114.57M79.00 114.81L75.58 114.81L75.58 115.06L79.00 115.06M76.40 114.45L75.15 114.45L75.15 114.94L75.58 114.94M79.00 115.79L76.04 115.79L76.04 116.03L79.00 116.03M79.00 115.54L75.60 115.54L75.60 115.91L76.04 115.91M79.00 115.30L74.33 115.30L74.33 115.73L75.60 115.73M75.15 114.69L73.54 114.69L73.54 115.51L74.33 115.51M79.00 116.52L75.21 116.52L75.21 116.76L79.00 116.76M79.00 116.27L72.95 116.27L72.95 116.64L75.21 116.64M73.54 115.10L71.71 115.10L71.71 116.46L72.95 116.46M73.63 113.28L69.99 113.28L69.99 115.78L71.71 115.78M79.00 117.49L75.64 117.49L75.64 117.73L79.00 117.73M79.00 117.25L74.87 117.25L74.87 117.61L75.64 117.61M79.00 117.00L71.92 117.00L71.92 117.43L74.87 117.43M79.00 118.22L76.95 118.22L76.95 118.46L79.00 118.46M79.00 117.98L75.53 117.98L75.53 118.34L76.95 118.34M79.00 118.95L76.89 118.95L76.89 119.19L79.00 119.19M79.00 118.71L76.49 118.71L76.49 119.07L76.89 119.07M79.00 119.44L76.14 119.44L76.14 119.68L79.00 119.68M76.49 118.89L74.64 118.89L74.64 119.56L76.14 119.56M75.53 118.16L73.86 118.16L73.86 119.23L74.64 119.23M79.00 120.17L76.69 120.17L76.69 120.41L79.00 120.41M79.00 119.92L75.67 119.92L75.67 120.29L76.69 120.29M79.00 120.90L76.38 120.90L76.38 121.14L79.00 121.14M79.00 120.65L74.84 120.65L74.84 121.02L76.38 121.02M75.67 120.11L73.82 120.11L73.82 120.84L74.84 120.84M73.86 118.69L72.54 118.69L72.54 120.47L73.82 120.47M79.00 121.63L75.28 121.63L75.28 121.87L79.00 121.87M79.00 121.38L74.68 121.38L74.68 121.75L75.28 121.75M79.00 122.36L77.39 122.36L77.39 122.60L79.00 122.60M79.00 122.85L76.46 122.85L76.46 123.09L79.00 123.09M77.39 122.48L76.12 122.48L76.12 122.97L76.46 122.97M79.00 122.12L75.79 122.12L75.79 122.72L76.12 122.72M79.00 123.33L75.13 123.33L75.13 123.58L79.00 123.58M75.79 122.42L73.87 122.42L73.87 123.45L75.13 123.45M74.68 121.57L72.41 121.57L72.41 122.94L73.87 122.94M72.54 119.58L71.17 119.58L71.17 122.25L72.41 122.25M71.92 117.22L70.43 117.22L70.43 120.92L71.17 120.92M79.00 124.06L74.83 124.06L74.83 124.31L79.00 124.31M79.00 123.82L74.62 123.82L74.62 124.18L74.83 124.18M79.00 124.79L76.66 124.79L76.66 125.04L79.00 125.04M79.00 124.55L76.33 124.55L76.33 124.91L76.66 124.91M79.00 125.28L75.83 125.28L75.83 125.52L79.00 125.52M76.33 124.73L75.20 124.73L75.20 125.40L75.83 125.40M79.00 126.01L76.89 126.01L76.89 126.25L79.00 126.25M79.00 125.77L74.92 125.77L74.92 126.13L76.89 126.13M75.20 125.07L74.12 125.07L74.12 125.95L74.92 125.95M74.62 124.00L72.08 124.00L72.08 125.51L74.12 125.51M79.00 126.50L76.93 126.50L76.93 126.74L79.00 126.74M79.00 126.98L76.32 126.98L76.32 127.23L79.00 127.23M76.93 126.62L75.66 126.62L75.66 127.10L76.32 127.10M79.00 127.47L77.01 127.47L77.01 127.71L79.00 127.71M79.00 128.20L76.85 128.20L76.85 128.44L79.00 128.44M79.00 127.96L76.35 127.96L76.35 128.32L76.85 128.32M77.01 127.59L75.38 127.59L75.38 128.14L76.35 128.14M75.66 126.86L74.49 126.86L74.49 127.86L75.38 127.86M79.00 128.93L76.37 128.93L76.37 129.17L79.00 129.17M79.00 128.69L75.43 128.69L75.43 129.05L76.37 129.05M79.00 129.42L77.93 129.42L77.93 129.66L79.00 129.66M79.00 129.90L77.00 129.90L77.00 130.15L79.00 130.15M77.93 129.54L76.42 129.54L76.42 130.02L77.00 130.02M79.00 130.39L76.88 130.39L76.88 130.63L79.00 130.63M79.00 130.88L76.46 130.88L76.46 131.12L79.00 131.12M76.88 130.51L76.06 130.51L76.06 131.00L76.46 131.00M76.42 129.78L74.52 129.78L74.52 130.75L76.06 130.75M75.43 128.87L73.63 128.87L73.63 130.27L74.52 130.27M74.49 127.36L72.88 127.36L72.88 129.57L73.63 129.57M79.00 131.85L76.77 131.85L76.77 132.09L79.00 132.09M79.00 131.61L75.67 131.61L75.67 131.97L76.77 131.97M79.00 131.36L74.40 131.36L74.40 131.79L75.67 131.79M79.00 132.58L77.34 132.58L77.34 132.82L79.00 132.82M79.00 132.34L76.32 132.34L76.32 132.70L77.34 132.70M79.00 133.07L76.15 133.07L76.15 133.31L79.00 133.31M76.32 132.52L74.96 132.52L74.96 133.19L76.15 133.19M79.00 133.55L75.72 133.55L75.72 133.80L79.00 133.80M79.00 134.04L76.40 134.04L76.40 134.28L79.00 134.28M79.00 134.53L76.93 134.53L76.93 134.77L79.00 134.77M79.00 135.26L77.58 135.26L77.58 135.50L79.00 135.50M79.00 135.01L76.64 135.01L76.64 135.38L77.58 135.38M76.93 134.65L75.40 134.65L75.40 135.20L76.64 135.20M76.40 134.16L74.74 134.16L74.74 134.92L75.40 134.92M75.72 133.67L73.90 133.67L73.90 134.54L74.74 134.54M74.96 132.85L72.74 132.85L72.74 134.11L73.90 134.11M74.40 131.58L71.90 131.58L71.90 133.48L72.74 133.48M72.88 128.47L71.04 128.47L71.04 132.53L71.90 132.53M72.08 124.75L70.37 124.75L70.37 130.50L71.04 130.50M70.43 119.07L68.62 119.07L68.62 127.63L70.37 127.63M69.99 114.53L67.87 114.53L67.87 123.35L68.62 123.35M79.00 136.23L76.31 136.23L76.31 136.47L79.00 136.47M79.00 135.99L75.37 135.99L75.37 136.35L76.31 136.35M79.00 135.74L74.26 135.74L74.26 136.17L75.37 136.17M79.00 136.72L75.40 136.72L75.40 136.96L79.00 136.96M79.00 137.20L74.07 137.20L74.07 137.45L79.00 137.45M75.40 136.84L73.53 136.84L73.53 137.32L74.07 137.32M79.00 137.69L75.20 137.69L75.20 137.93L79.00 137.93M79.00 138.18L77.07 138.18L77.07 138.42L79.00 138.42M79.00 138.66L76.12 138.66L76.12 138.91L79.00 138.91M77.07 138.30L75.82 138.30L75.82 138.79L76.12 138.79M79.00 139.15L76.47 139.15L76.47 139.39L79.00 139.39M79.00 139.64L75.08 139.64L75.08 139.88L79.00 139.88M76.47 139.27L74.28 139.27L74.28 139.76L75.08 139.76M75.82 138.54L74.00 138.54L74.00 139.52L74.28 139.52M75.20 137.81L73.03 137.81L73.03 139.03L74.00 139.03M73.53 137.08L71.75 137.08L71.75 138.42L73.03 138.42M74.26 135.96L70.49 135.96L70.49 137.75L71.75 137.75M79.00 140.12L76.84 140.12L76.84 140.37L79.00 140.37M79.00 140.85L76.26 140.85L76.26 141.10L79.00 141.10M79.00 140.61L75.47 140.61L75.47 140.98L76.26 140.98M76.84 140.25L74.44 140.25L74.44 140.79L75.47 140.79M79.00 141.58L76.86 141.58L76.86 141.83L79.00 141.83M79.00 141.34L76.67 141.34L76.67 141.71L76.86 141.71M79.00 142.07L76.23 142.07L76.23 142.31L79.00 142.31M76.67 141.52L74.24 141.52L74.24 142.19L76.23 142.19M74.44 140.52L72.67 140.52L72.67 141.86L74.24 141.86M79.00 142.56L72.52 142.56L72.52 142.80L79.00 142.80M72.67 141.19L70.19 141.19L70.19 142.68L72.52 142.68M70.49 136.85L69.43 136.85L69.43 141.93L70.19 141.93M79.00 143.04L75.65 143.04L75.65 143.29L79.00 143.29M79.00 143.53L76.44 143.53L76.44 143.77L79.00 143.77M79.00 144.02L76.74 144.02L76.74 144.26L79.00 144.26M79.00 144.50L75.68 144.50L75.68 144.75L79.00 144.75M76.74 144.14L74.70 144.14L74.70 144.63L75.68 144.63M76.44 143.65L74.21 143.65L74.21 144.38L74.70 144.38M75.65 143.17L73.58 143.17L73.58 144.02L74.21 144.02M79.00 144.99L76.39 144.99L76.39 145.23L79.00 145.23M79.00 145.48L76.30 145.48L76.30 145.72L79.00 145.72M76.39 145.11L75.41 145.11L75.41 145.60L76.30 145.60M79.00 146.21L76.64 146.21L76.64 146.45L79.00 146.45M79.00 145.96L76.10 145.96L76.10 146.33L76.64 146.33M79.00 146.94L76.89 146.94L76.89 147.18L79.00 147.18M79.00 146.69L75.76 146.69L75.76 147.06L76.89 147.06M76.10 146.15L74.60 146.15L74.60 146.88L75.76 146.88M75.41 145.36L73.21 145.36L73.21 146.51L74.60 146.51M73.58 143.59L72.04 143.59L72.04 145.93L73.21 145.93M79.00 147.42L74.66 147.42L74.66 147.67L79.00 147.67M79.00 148.15L76.42 148.15L76.42 148.40L79.00 148.40M79.00 147.91L75.64 147.91L75.64 148.28L76.42 148.28M79.00 149.13L77.26 149.13L77.26 149.37L79.00 149.37M79.00 148.88L76.01 148.88L76.01 149.25L77.26 149.25M79.00 148.64L74.80 148.64L74.80 149.07L76.01 149.07M75.64 148.09L73.36 148.09L73.36 148.85L74.80 148.85M74.66 147.55L71.10 147.55L71.10 148.47L73.36 148.47M72.04 144.76L70.52 144.76L70.52 148.01L71.10 148.01M79.00 149.86L76.45 149.86L76.45 150.10L79.00 150.10M79.00 149.61L75.91 149.61L75.91 149.98L76.45 149.98M79.00 150.59L75.64 150.59L75.64 150.83L79.00 150.83M79.00 150.34L75.54 150.34L75.54 150.71L75.64 150.71M75.91 149.80L74.56 149.80L74.56 150.53L75.54 150.53M79.00 151.32L77.08 151.32L77.08 151.56L79.00 151.56M79.00 151.07L76.27 151.07L76.27 151.44L77.08 151.44M79.00 151.80L75.38 151.80L75.38 152.05L79.00 152.05M76.27 151.26L74.55 151.26L74.55 151.93L75.38 151.93M74.56 150.16L72.42 150.16L72.42 151.59L74.55 151.59M79.00 152.53L75.60 152.53L75.60 152.78L79.00 152.78M79.00 153.02L74.19 153.02L74.19 153.26L79.00 153.26M75.60 152.66L72.94 152.66L72.94 153.14L74.19 153.14M79.00 152.29L72.74 152.29L72.74 152.90L72.94 152.90M79.00 153.51L76.13 153.51L76.13 153.75L79.00 153.75M79.00 154.24L75.76 154.24L75.76 154.48L79.00 154.48M79.00 153.99L75.31 153.99L75.31 154.36L75.76 154.36M76.13 153.63L74.04 153.63L74.04 154.18L75.31 154.18M79.00 155.46L77.18 155.46L77.18 155.70L79.00 155.70M79.00 155.21L76.62 155.21L76.62 155.58L77.18 155.58M79.00 154.97L74.52 154.97L74.52 155.39L76.62 155.39M79.00 154.73L73.01 154.73L73.01 155.18L74.52 155.18M74.04 153.90L71.96 153.90L71.96 154.95L73.01 154.95M72.74 152.60L70.44 152.60L70.44 154.43L71.96 154.43M72.42 150.88L70.33 150.88L70.33 153.51L70.44 153.51M70.52 146.39L68.42 146.39L68.42 152.19L70.33 152.19M69.43 139.39L66.81 139.39L66.81 149.29L68.42 149.29M67.87 118.94L66.64 118.94L66.64 144.34L66.81 144.34M79.00 156.19L75.66 156.19L75.66 156.43L79.00 156.43M79.00 155.94L75.40 155.94L75.40 156.31L75.66 156.31M79.00 156.67L75.20 156.67L75.20 156.92L79.00 156.92M75.40 156.12L73.42 156.12L73.42 156.79L75.20 156.79M79.00 157.16L76.03 157.16L76.03 157.40L79.00 157.40M79.00 157.65L75.64 157.65L75.64 157.89L79.00 157.89M76.03 157.28L75.24 157.28L75.24 157.77L75.64 157.77M79.00 158.62L77.18 158.62L77.18 158.86L79.00 158.86M79.00 158.38L75.49 158.38L75.49 158.74L77.18 158.74M79.00 158.13L74.90 158.13L74.90 158.56L75.49 158.56M75.24 157.52L72.64 157.52L72.64 158.35L74.90 158.35M79.00 159.35L76.07 159.35L76.07 159.59L79.00 159.59M79.00 159.84L75.75 159.84L75.75 160.08L79.00 160.08M76.07 159.47L74.47 159.47L74.47 159.96L75.75 159.96M79.00 159.11L72.88 159.11L72.88 159.71L74.47 159.71M79.00 160.32L76.59 160.32L76.59 160.57L79.00 160.57M79.00 160.81L76.25 160.81L76.25 161.05L79.00 161.05M76.59 160.44L74.96 160.44L74.96 160.93L76.25 160.93M79.00 161.78L76.76 161.78L76.76 162.03L79.00 162.03M79.00 161.54L76.07 161.54L76.07 161.90L76.76 161.90M79.00 161.30L74.94 161.30L74.94 161.72L76.07 161.72M74.96 160.69L73.34 160.69L73.34 161.51L74.94 161.51M79.00 162.27L77.03 162.27L77.03 162.51L79.00 162.51M79.00 162.76L76.34 162.76L76.34 163.00L79.00 163.00M77.03 162.39L75.57 162.39L75.57 162.88L76.34 162.88M79.00 163.24L76.47 163.24L76.47 163.49L79.00 163.49M79.00 163.73L76.99 163.73L76.99 163.97L79.00 163.97M79.00 164.22L76.84 164.22L76.84 164.46L79.00 164.46M76.99 163.85L76.12 163.85L76.12 164.34L76.84 164.34M76.47 163.36L75.47 163.36L75.47 164.09L76.12 164.09M75.57 162.63L74.75 162.63L74.75 163.73L75.47 163.73M79.00 164.95L77.26 164.95L77.26 165.19L79.00 165.19M79.00 164.70L74.48 164.70L74.48 165.07L77.26 165.07M74.75 163.18L72.95 163.18L72.95 164.89L74.48 164.89M73.34 161.10L71.50 161.10L71.50 164.03L72.95 164.03M72.88 159.41L71.25 159.41L71.25 162.57L71.50 162.57M72.64 157.93L70.70 157.93L70.70 160.99L71.25 160.99M73.42 156.46L69.82 156.46L69.82 159.46L70.70 159.46M79.00 165.43L74.80 165.43L74.80 165.68L79.00 165.68M79.00 166.16L76.07 166.16L76.07 166.41L79.00 166.41M79.00 165.92L73.89 165.92L73.89 166.28L76.07 166.28M74.80 165.55L72.62 165.55L72.62 166.10L73.89 166.10M79.00 166.89L76.71 166.89L76.71 167.14L79.00 167.14M79.00 167.38L75.72 167.38L75.72 167.62L79.00 167.62M76.71 167.01L74.12 167.01L74.12 167.50L75.72 167.50M79.00 166.65L73.48 166.65L73.48 167.26L74.12 167.26M79.00 168.11L75.43 168.11L75.43 168.35L79.00 168.35M79.00 167.87L73.33 167.87L73.33 168.23L75.43 168.23M79.00 169.08L76.76 169.08L76.76 169.33L79.00 169.33M79.00 168.84L75.88 168.84L75.88 169.20L76.76 169.20M79.00 169.57L76.94 169.57L76.94 169.81L79.00 169.81M79.00 170.06L76.34 170.06L76.34 170.30L79.00 170.30M76.94 169.69L74.83 169.69L74.83 170.18L76.34 170.18M75.88 169.02L73.99 169.02L73.99 169.93L74.83 169.93M79.00 168.60L72.60 168.60L72.60 169.48L73.99 169.48M73.33 168.05L71.33 168.05L71.33 169.04L72.60 169.04M73.48 166.95L71.08 166.95L71.08 168.54L71.33 168.54M72.62 165.83L69.50 165.83L69.50 167.75L71.08 167.75M69.82 157.96L66.57 157.96L66.57 166.79L69.50 166.79M66.64 131.64L65.37 131.64L65.37 162.37L66.57 162.37M65.67 96.26L64.33 96.26L64.33 147.01L65.37 147.01M70.01 74.96L62.60 74.96L62.60 121.63L64.33 121.63M79.00 171.55L75.32 171.55L75.32 171.81L79.00 171.81M79.00 171.30L71.88 171.30L71.88 171.68L75.32 171.68M79.00 172.57L75.75 172.57L75.75 172.83L79.00 172.83M79.00 173.08L75.74 173.08L75.74 173.34L79.00 173.34M75.75 172.70L74.09 172.70L74.09 173.21L75.74 173.21M79.00 172.32L73.10 172.32L73.10 172.95L74.09 172.95M79.00 172.06L71.11 172.06L71.11 172.64L73.10 172.64M71.88 171.49L69.06 171.49L69.06 172.35L71.11 172.35M79.00 173.59L75.27 173.59L75.27 173.84L79.00 173.84M79.00 174.61L76.11 174.61L76.11 174.86L79.00 174.86M79.00 174.35L75.85 174.35L75.85 174.73L76.11 174.73M79.00 174.10L72.69 174.10L72.69 174.54L75.85 174.54M75.27 173.72L72.07 173.72L72.07 174.32L72.69 174.32M79.00 175.12L76.62 175.12L76.62 175.37L79.00 175.37M79.00 175.62L76.42 175.62L76.42 175.88L79.00 175.88M76.62 175.24L75.64 175.24L75.64 175.75L76.42 175.75M79.00 176.39L75.42 176.39L75.42 176.64L79.00 176.64M79.00 176.13L74.52 176.13L74.52 176.51L75.42 176.51M75.64 175.50L74.48 175.50L74.48 176.32L74.52 176.32M79.00 177.15L75.71 177.15L75.71 177.41L79.00 177.41M79.00 176.90L74.39 176.90L74.39 177.28L75.71 177.28M74.48 175.91L71.83 175.91L71.83 177.09L74.39 177.09M72.07 174.02L70.38 174.02L70.38 176.50L71.83 176.50M79.00 178.42L76.37 178.42L76.37 178.68L79.00 178.68M79.00 178.17L74.94 178.17L74.94 178.55L76.37 178.55M79.00 177.91L74.38 177.91L74.38 178.36L74.94 178.36M79.00 177.66L72.54 177.66L72.54 178.14L74.38 178.14M79.00 179.19L75.54 179.19L75.54 179.44L79.00 179.44M79.00 178.93L74.45 178.93L74.45 179.31L75.54 179.31M79.00 179.69L75.58 179.69L75.58 179.95L79.00 179.95M79.00 180.20L76.44 180.20L76.44 180.46L79.00 180.46M79.00 180.71L75.99 180.71L75.99 180.97L79.00 180.97M76.44 180.33L74.84 180.33L74.84 180.84L75.99 180.84M75.58 179.82L74.22 179.82L74.22 180.59L74.84 180.59M74.45 179.12L72.45 179.12L72.45 180.20L74.22 180.20M79.00 181.22L76.47 181.22L76.47 181.48L79.00 181.48M79.00 181.73L75.64 181.73L75.64 181.98L79.00 181.98M76.47 181.35L74.33 181.35L74.33 181.86L75.64 181.86M79.00 182.24L75.95 182.24L75.95 182.49L79.00 182.49M79.00 182.75L75.31 182.75L75.31 183.00L79.00 183.00M75.95 182.37L73.90 182.37L73.90 182.87L75.31 182.87M74.33 181.60L72.33 181.60L72.33 182.62L73.90 182.62M72.45 179.66L70.66 179.66L70.66 182.11L72.33 182.11M72.54 177.90L69.53 177.90L69.53 180.89L70.66 180.89M70.38 175.26L68.61 175.26L68.61 179.39L69.53 179.39M69.06 171.92L66.18 171.92L66.18 177.33L68.61 177.33M79.00 183.26L73.60 183.26L73.60 183.51L79.00 183.51M79.00 184.02L75.39 184.02L75.39 184.27L79.00 184.27M79.00 183.76L73.66 183.76L73.66 184.15L75.39 184.15M79.00 184.78L75.62 184.78L75.62 185.04L79.00 185.04M79.00 184.53L73.22 184.53L73.22 184.91L75.62 184.91M73.66 183.96L72.52 183.96L72.52 184.72L73.22 184.72M73.60 183.38L70.39 183.38L70.39 184.34L72.52 184.34M79.00 185.55L76.31 185.55L76.31 185.80L79.00 185.80M79.00 185.29L75.71 185.29L75.71 185.67L76.31 185.67M79.00 186.56L77.07 186.56L77.07 186.82L79.00 186.82M79.00 186.31L75.17 186.31L75.17 186.69L77.07 186.69M79.00 186.05L74.47 186.05L74.47 186.50L75.17 186.50M75.71 185.48L74.19 185.48L74.19 186.28L74.47 186.28M79.00 187.33L76.87 187.33L76.87 187.58L79.00 187.58M79.00 187.07L76.08 187.07L76.08 187.45L76.87 187.45M79.00 188.09L77.43 188.09L77.43 188.34L79.00 188.34M79.00 187.84L76.02 187.84L76.02 188.22L77.43 188.22M76.08 187.26L75.07 187.26L75.07 188.03L76.02 188.03M79.00 188.60L77.14 188.60L77.14 188.85L79.00 188.85M79.00 189.11L76.24 189.11L76.24 189.36L79.00 189.36M77.14 188.73L75.24 188.73L75.24 189.23L76.24 189.23M79.00 189.62L77.27 189.62L77.27 189.87L79.00 189.87M79.00 190.38L77.33 190.38L77.33 190.63L79.00 190.63M79.00 190.12L76.44 190.12L76.44 190.51L77.33 190.51M77.27 189.74L75.70 189.74L75.70 190.32L76.44 190.32M79.00 191.14L77.56 191.14L77.56 191.40L79.00 191.40M79.00 190.89L76.51 190.89L76.51 191.27L77.56 191.27M79.00 191.65L76.46 191.65L76.46 191.91L79.00 191.91M76.51 191.08L75.31 191.08L75.31 191.78L76.46 191.78M75.70 190.03L74.72 190.03L74.72 191.43L75.31 191.43M75.24 188.98L73.86 188.98L73.86 190.73L74.72 190.73M75.07 187.64L73.44 187.64L73.44 189.85L73.86 189.85M79.00 192.16L76.97 192.16L76.97 192.41L79.00 192.41M79.00 192.67L76.71 192.67L76.71 192.92L79.00 192.92M76.97 192.29L75.54 192.29L75.54 192.80L76.71 192.80M79.00 193.18L76.91 193.18L76.91 193.43L79.00 193.43M79.00 193.94L76.80 193.94L76.80 194.19L79.00 194.19M79.00 193.69L76.10 193.69L76.10 194.07L76.80 194.07M76.91 193.30L75.68 193.30L75.68 193.88L76.10 193.88M79.00 194.45L77.27 194.45L77.27 194.70L79.00 194.70M79.00 194.96L76.72 194.96L76.72 195.21L79.00 195.21M77.27 194.58L75.64 194.58L75.64 195.09L76.72 195.09M75.68 193.59L75.06 193.59L75.06 194.83L75.64 194.83M75.54 192.54L73.37 192.54L73.37 194.21L75.06 194.21M73.44 188.75L72.85 188.75L72.85 193.38L73.37 193.38M74.19 185.88L71.51 185.88L71.51 191.06L72.85 191.06M79.00 195.47L76.32 195.47L76.32 195.72L79.00 195.72M79.00 195.98L75.94 195.98L75.94 196.23L79.00 196.23M76.32 195.59L75.53 195.59L75.53 196.10L75.94 196.10M79.00 196.48L75.06 196.48L75.06 196.74L79.00 196.74M75.53 195.85L74.37 195.85L74.37 196.61L75.06 196.61M79.00 196.99L75.78 196.99L75.78 197.25L79.00 197.25M79.00 197.76L77.02 197.76L77.02 198.01L79.00 198.01M79.00 197.50L75.38 197.50L75.38 197.88L77.02 197.88M75.78 197.12L74.20 197.12L74.20 197.69L75.38 197.69M74.37 196.23L72.19 196.23L72.19 197.41L74.20 197.41M79.00 198.26L75.30 198.26L75.30 198.52L79.00 198.52M79.00 199.28L76.69 199.28L76.69 199.54L79.00 199.54M79.00 199.03L75.95 199.03L75.95 199.41L76.69 199.41M79.00 198.77L74.96 198.77L74.96 199.22L75.95 199.22M75.30 198.39L73.44 198.39L73.44 199.00L74.96 199.00M79.00 200.05L76.95 200.05L76.95 200.30L79.00 200.30M79.00 199.79L74.47 199.79L74.47 200.17L76.95 200.17M79.00 200.55L76.61 200.55L76.61 200.81L79.00 200.81M79.00 201.06L76.45 201.06L76.45 201.32L79.00 201.32M76.61 200.68L74.82 200.68L74.82 201.19L76.45 201.19M79.00 201.83L77.06 201.83L77.06 202.08L79.00 202.08M79.00 201.57L75.76 201.57L75.76 201.95L77.06 201.95M79.00 202.34L76.47 202.34L76.47 202.59L79.00 202.59M79.00 203.10L76.49 203.10L76.49 203.35L79.00 203.35M79.00 202.84L76.03 202.84L76.03 203.23L76.49 203.23M76.47 202.46L74.99 202.46L74.99 203.03L76.03 203.03M75.76 201.76L74.36 201.76L74.36 202.75L74.99 202.75M74.82 200.94L73.10 200.94L73.10 202.26L74.36 202.26M74.47 199.98L72.65 199.98L72.65 201.60L73.10 201.60M73.44 198.69L71.24 198.69L71.24 200.79L72.65 200.79M72.19 196.82L70.53 196.82L70.53 199.74L71.24 199.74M71.51 188.47L69.74 188.47L69.74 198.28L70.53 198.28M70.39 183.86L69.00 183.86L69.00 193.38L69.74 193.38M79.00 203.61L76.52 203.61L76.52 203.86L79.00 203.86M79.00 204.37L76.09 204.37L76.09 204.62L79.00 204.62M79.00 204.12L75.19 204.12L75.19 204.50L76.09 204.50M76.52 203.73L74.05 203.73L74.05 204.31L75.19 204.31M79.00 205.13L75.79 205.13L75.79 205.39L79.00 205.39M79.00 204.88L75.41 204.88L75.41 205.26L75.79 205.26M79.00 205.90L75.79 205.90L75.79 206.15L79.00 206.15M79.00 205.64L74.89 205.64L74.89 206.02L75.79 206.02M75.41 205.07L73.45 205.07L73.45 205.83L74.89 205.83M74.05 204.02L72.23 204.02L72.23 205.45L73.45 205.45M79.00 206.66L76.84 206.66L76.84 206.91L79.00 206.91M79.00 206.41L76.43 206.41L76.43 206.79L76.84 206.79M79.00 207.68L77.23 207.68L77.23 207.93L79.00 207.93M79.00 207.42L76.24 207.42L76.24 207.80L77.23 207.80M79.00 207.17L75.82 207.17L75.82 207.61L76.24 207.61M76.43 206.60L74.13 206.60L74.13 207.39L75.82 207.39M79.00 208.19L75.60 208.19L75.60 208.44L79.00 208.44M79.00 208.95L76.60 208.95L76.60 209.20L79.00 209.20M79.00 208.69L75.15 208.69L75.15 209.08L76.60 209.08M75.60 208.31L73.92 208.31L73.92 208.89L75.15 208.89M74.13 206.99L72.63 206.99L72.63 208.60L73.92 208.60M79.00 209.46L74.64 209.46L74.64 209.71L79.00 209.71M79.00 210.48L76.60 210.48L76.60 210.73L79.00 210.73M79.00 210.22L74.91 210.22L74.91 210.60L76.60 210.60M79.00 209.97L73.99 209.97L73.99 210.41L74.91 210.41M74.64 209.59L72.57 209.59L72.57 210.19L73.99 210.19M72.63 207.80L71.50 207.80L71.50 209.89L72.57 209.89M72.23 204.74L70.62 204.74L70.62 208.84L71.50 208.84M79.00 211.24L74.36 211.24L74.36 211.49L79.00 211.49M79.00 210.98L73.23 210.98L73.23 211.37L74.36 211.37M79.00 211.75L74.59 211.75L74.59 212.00L79.00 212.00M79.00 212.76L76.30 212.76L76.30 213.02L79.00 213.02M79.00 212.51L75.27 212.51L75.27 212.89L76.30 212.89M79.00 212.26L74.06 212.26L74.06 212.70L75.27 212.70M74.59 211.87L72.51 211.87L72.51 212.48L74.06 212.48M73.23 211.18L69.48 211.18L69.48 212.18L72.51 212.18M70.62 206.79L68.40 206.79L68.40 211.68L69.48 211.68M69.00 188.62L67.10 188.62L67.10 209.23L68.40 209.23M79.00 213.27L73.87 213.27L73.87 213.53L79.00 213.53M79.00 213.78L75.74 213.78L75.74 214.04L79.00 214.04M79.00 214.55L77.12 214.55L77.12 214.80L79.00 214.80M79.00 214.29L75.27 214.29L75.27 214.67L77.12 214.67M79.00 215.31L76.36 215.31L76.36 215.56L79.00 215.56M79.00 215.05L74.86 215.05L74.86 215.44L76.36 215.44M75.27 214.48L74.39 214.48L74.39 215.25L74.86 215.25M75.74 213.91L73.57 213.91L73.57 214.86L74.39 214.86M79.00 215.82L76.35 215.82L76.35 216.07L79.00 216.07M79.00 216.33L75.38 216.33L75.38 216.58L79.00 216.58M76.35 215.94L74.87 215.94L74.87 216.45L75.38 216.45M79.00 216.84L74.54 216.84L74.54 217.09L79.00 217.09M74.87 216.20L72.54 216.20L72.54 216.96L74.54 216.96M73.57 214.39L72.18 214.39L72.18 216.58L72.54 216.58M73.87 213.40L69.06 213.40L69.06 215.48L72.18 215.48M79.00 217.34L77.49 217.34L77.49 217.60L79.00 217.60M79.00 218.11L76.19 218.11L76.19 218.36L79.00 218.36M79.00 217.85L75.79 217.85L75.79 218.23L76.19 218.23M77.49 217.47L75.23 217.47L75.23 218.04L75.79 218.04M79.00 218.62L76.21 218.62L76.21 218.87L79.00 218.87M79.00 219.38L76.63 219.38L76.63 219.63L79.00 219.63M79.00 219.12L75.61 219.12L75.61 219.51L76.63 219.51M76.21 218.74L74.76 218.74L74.76 219.32L75.61 219.32M75.23 217.76L73.63 217.76L73.63 219.03L74.76 219.03M79.00 219.89L74.67 219.89L74.67 220.14L79.00 220.14M79.00 220.40L76.29 220.40L76.29 220.65L79.00 220.65M79.00 220.91L76.73 220.91L76.73 221.16L79.00 221.16M79.00 221.41L76.04 221.41L76.04 221.67L79.00 221.67M76.73 221.03L75.30 221.03L75.30 221.54L76.04 221.54M76.29 220.52L73.92 220.52L73.92 221.29L75.30 221.29M74.67 220.01L73.12 220.01L73.12 220.91L73.92 220.91M73.63 218.39L71.61 218.39L71.61 220.46L73.12 220.46M79.00 222.18L76.15 222.18L76.15 222.43L79.00 222.43M79.00 221.92L75.21 221.92L75.21 222.30L76.15 222.30M79.00 222.94L75.95 222.94L75.95 223.19L79.00 223.19M79.00 222.69L75.11 222.69L75.11 223.07L75.95 223.07M79.00 223.70L76.21 223.70L76.21 223.96L79.00 223.96M79.00 223.45L74.57 223.45L74.57 223.83L76.21 223.83M75.11 222.88L72.29 222.88L72.29 223.64L74.57 223.64M75.21 222.11L71.53 222.11L71.53 223.26L72.29 223.26M71.61 219.43L69.66 219.43L69.66 222.69L71.53 222.69M79.00 224.47L76.03 224.47L76.03 224.72L79.00 224.72M79.00 224.21L73.83 224.21L73.83 224.59L76.03 224.59M79.00 225.23L76.66 225.23L76.66 225.48L79.00 225.48M79.00 224.98L75.58 224.98L75.58 225.36L76.66 225.36M79.00 225.74L75.16 225.74L75.16 225.99L79.00 225.99M75.58 225.17L73.65 225.17L73.65 225.87L75.16 225.87M73.83 224.40L71.76 224.40L71.76 225.52L73.65 225.52M79.00 226.50L77.38 226.50L77.38 226.76L79.00 226.76M79.00 226.25L76.18 226.25L76.18 226.63L77.38 226.63M79.00 227.01L75.76 227.01L75.76 227.26L79.00 227.26M76.18 226.44L75.09 226.44L75.09 227.14L75.76 227.14M79.00 227.52L74.54 227.52L74.54 227.77L79.00 227.77M75.09 226.79L73.11 226.79L73.11 227.65L74.54 227.65M79.00 228.03L76.14 228.03L76.14 228.28L79.00 228.28M79.00 228.79L76.35 228.79L76.35 229.05L79.00 229.05M79.00 228.54L75.68 228.54L75.68 228.92L76.35 228.92M79.00 229.30L75.43 229.30L75.43 229.55L79.00 229.55M75.68 228.73L73.26 228.73L73.26 229.43L75.43 229.43M76.14 228.16L72.96 228.16L72.96 229.08L73.26 229.08M73.11 227.22L71.08 227.22L71.08 228.62L72.96 228.62M71.76 224.96L69.45 224.96L69.45 227.92L71.08 227.92M69.66 221.06L67.70 221.06L67.70 226.44L69.45 226.44M69.06 214.44L66.14 214.44L66.14 223.75L67.70 223.75M67.10 198.93L65.74 198.93L65.74 219.09L66.14 219.09M66.18 174.62L64.95 174.62L64.95 209.01L65.74 209.01M79.00 230.57L76.96 230.57L76.96 230.83L79.00 230.83M79.00 230.32L76.23 230.32L76.23 230.70L76.96 230.70M79.00 230.06L73.94 230.06L73.94 230.51L76.23 230.51M79.00 229.81L72.24 229.81L72.24 230.29L73.94 230.29M79.00 231.08L76.94 231.08L76.94 231.34L79.00 231.34M79.00 231.59L75.04 231.59L75.04 231.84L79.00 231.84M76.94 231.21L74.04 231.21L74.04 231.72L75.04 231.72M79.00 232.35L76.15 232.35L76.15 232.61L79.00 232.61M79.00 232.10L75.57 232.10L75.57 232.48L76.15 232.48M79.00 232.86L75.70 232.86L75.70 233.12L79.00 233.12M79.00 233.62L76.71 233.62L76.71 233.88L79.00 233.88M79.00 233.37L75.96 233.37L75.96 233.75L76.71 233.75M79.00 234.13L77.02 234.13L77.02 234.39L79.00 234.39M79.00 234.90L77.58 234.90L77.58 235.15L79.00 235.15M79.00 234.64L76.03 234.64L76.03 235.02L77.58 235.02M77.02 234.26L75.61 234.26L75.61 234.83L76.03 234.83M75.96 233.56L74.92 233.56L74.92 234.55L75.61 234.55M75.70 232.99L73.97 232.99L73.97 234.05L74.92 234.05M75.57 232.29L72.53 232.29L72.53 233.52L73.97 233.52M74.04 231.46L70.91 231.46L70.91 232.91L72.53 232.91M72.24 230.05L69.14 230.05L69.14 232.18L70.91 232.18M79.00 235.66L75.68 235.66L75.68 235.91L79.00 235.91M79.00 235.41L73.43 235.41L73.43 235.79L75.68 235.79M79.00 236.42L75.16 236.42L75.16 236.68L79.00 236.68M79.00 236.93L76.32 236.93L76.32 237.19L79.00 237.19M79.00 237.69L76.41 237.69L76.41 237.95L79.00 237.95M79.00 237.44L75.41 237.44L75.41 237.82L76.41 237.82M76.32 237.06L75.08 237.06L75.08 237.63L75.41 237.63M75.16 236.55L73.18 236.55L73.18 237.34L75.08 237.34M79.00 236.17L72.57 236.17L72.57 236.95L73.18 236.95M73.43 235.60L70.94 235.60L70.94 236.56L72.57 236.56M79.00 238.20L74.80 238.20L74.80 238.46L79.00 238.46M79.00 238.71L76.82 238.71L76.82 238.97L79.00 238.97M79.00 239.48L76.83 239.48L76.83 239.73L79.00 239.73M79.00 239.22L75.35 239.22L75.35 239.60L76.83 239.60M76.82 238.84L74.99 238.84L74.99 239.41L75.35 239.41M79.00 240.24L76.37 240.24L76.37 240.49L79.00 240.49M79.00 239.98L74.44 239.98L74.44 240.37L76.37 240.37M74.99 239.13L73.55 239.13L73.55 240.18L74.44 240.18M74.80 238.33L72.44 238.33L72.44 239.65L73.55 239.65M79.00 240.75L76.67 240.75L76.67 241.00L79.00 241.00M79.00 241.26L76.09 241.26L76.09 241.51L79.00 241.51M76.67 240.87L75.69 240.87L75.69 241.38L76.09 241.38M79.00 242.27L77.10 242.27L77.10 242.53L79.00 242.53M79.00 242.02L76.92 242.02L76.92 242.40L77.10 242.40M79.00 242.78L76.68 242.78L76.68 243.04L79.00 243.04M76.92 242.21L75.76 242.21L75.76 242.91L76.68 242.91M79.00 241.76L74.96 241.76L74.96 242.56L75.76 242.56M75.69 241.13L74.03 241.13L74.03 242.16L74.96 242.16M79.00 243.29L75.38 243.29L75.38 243.55L79.00 243.55M79.00 244.05L76.77 244.05L76.77 244.31L79.00 244.31M79.00 243.80L75.23 243.80L75.23 244.18L76.77 244.18M75.38 243.42L73.83 243.42L73.83 243.99L75.23 243.99M74.03 241.65L73.09 241.65L73.09 243.70L73.83 243.70M79.00 244.82L77.18 244.82L77.18 245.07L79.00 245.07M79.00 244.56L75.94 244.56L75.94 244.94L77.18 244.94M79.00 245.33L76.24 245.33L76.24 245.58L79.00 245.58M79.00 245.84L76.22 245.84L76.22 246.09L79.00 246.09M76.24 245.45L75.32 245.45L75.32 245.96L76.22 245.96M75.94 244.75L73.94 244.75L73.94 245.71L75.32 245.71M79.00 246.60L75.08 246.60L75.08 246.85L79.00 246.85M79.00 246.34L73.34 246.34L73.34 246.73L75.08 246.73M73.94 245.23L72.74 245.23L72.74 246.53L73.34 246.53M73.09 242.68L71.31 242.68L71.31 245.88L72.74 245.88M72.44 238.99L70.53 238.99L70.53 244.28L71.31 244.28M70.94 236.08L68.53 236.08L68.53 241.63L70.53 241.63M69.14 231.12L67.15 231.12L67.15 238.86L68.53 238.86M79.00 247.62L75.95 247.62L75.95 247.87L79.00 247.87M79.00 247.36L75.23 247.36L75.23 247.74L75.95 247.74M79.00 248.12L75.59 248.12L75.59 248.38L79.00 248.38M79.00 248.89L76.34 248.89L76.34 249.14L79.00 249.14M79.00 248.63L74.80 248.63L74.80 249.01L76.34 249.01M75.59 248.25L74.36 248.25L74.36 248.82L74.80 248.82M75.23 247.55L72.64 247.55L72.64 248.54L74.36 248.54M79.00 247.11L70.22 247.11L70.22 248.05L72.64 248.05M79.00 249.91L76.74 249.91L76.74 250.16L79.00 250.16M79.00 249.65L75.84 249.65L75.84 250.03L76.74 250.03M79.00 249.40L75.08 249.40L75.08 249.84L75.84 249.84M79.00 250.67L76.10 250.67L76.10 250.92L79.00 250.92M79.00 250.41L74.62 250.41L74.62 250.80L76.10 250.80M75.08 249.62L73.03 249.62L73.03 250.60L74.62 250.60M79.00 251.43L76.35 251.43L76.35 251.69L79.00 251.69M79.00 251.18L75.66 251.18L75.66 251.56L76.35 251.56M79.00 251.94L76.07 251.94L76.07 252.19L79.00 252.19M79.00 252.45L76.65 252.45L76.65 252.70L79.00 252.70M79.00 252.96L76.62 252.96L76.62 253.21L79.00 253.21M76.65 252.58L74.39 252.58L74.39 253.09L76.62 253.09M76.07 252.07L74.33 252.07L74.33 252.83L74.39 252.83M75.66 251.37L73.02 251.37L73.02 252.45L74.33 252.45M73.03 250.11L71.60 250.11L71.60 251.91L73.02 251.91M79.00 253.98L76.09 253.98L76.09 254.23L79.00 254.23M79.00 253.72L75.63 253.72L75.63 254.10L76.09 254.10M79.00 253.47L74.15 253.47L74.15 253.91L75.63 253.91M79.00 254.99L77.35 254.99L77.35 255.25L79.00 255.25M79.00 254.74L76.48 254.74L76.48 255.12L77.35 255.12M79.00 254.48L74.88 254.48L74.88 254.93L76.48 254.93M79.00 255.50L75.68 255.50L75.68 255.76L79.00 255.76M79.00 256.01L75.40 256.01L75.40 256.26L79.00 256.26M75.68 255.63L74.02 255.63L74.02 256.14L75.40 256.14M74.88 254.71L73.16 254.71L73.16 255.88L74.02 255.88M74.15 253.69L72.81 253.69L72.81 255.30L73.16 255.30M79.00 257.03L75.70 257.03L75.70 257.28L79.00 257.28M79.00 256.77L74.51 256.77L74.51 257.16L75.70 257.16M79.00 256.52L73.10 256.52L73.10 256.96L74.51 256.96M79.00 257.79L75.97 257.79L75.97 258.05L79.00 258.05M79.00 257.54L75.15 257.54L75.15 257.92L75.97 257.92M79.00 258.30L76.43 258.30L76.43 258.55L79.00 258.55M79.00 258.81L75.94 258.81L75.94 259.06L79.00 259.06M76.43 258.43L74.14 258.43L74.14 258.94L75.94 258.94M75.15 257.73L72.72 257.73L72.72 258.68L74.14 258.68M73.10 256.74L71.54 256.74L71.54 258.20L72.72 258.20M72.81 254.49L70.22 254.49L70.22 257.47L71.54 257.47M71.60 251.01L69.35 251.01L69.35 255.98L70.22 255.98M70.22 247.58L68.21 247.58L68.21 253.50L69.35 253.50M79.00 259.32L74.94 259.32L74.94 259.57L79.00 259.57M79.00 259.83L76.46 259.83L76.46 260.08L79.00 260.08M79.00 260.34L76.96 260.34L76.96 260.59L79.00 260.59M79.00 261.10L77.53 261.10L77.53 261.35L79.00 261.35M79.00 260.84L76.88 260.84L76.88 261.23L77.53 261.23M76.96 260.46L75.91 260.46L75.91 261.03L76.88 261.03M76.46 259.95L73.96 259.95L73.96 260.75L75.91 260.75M74.94 259.44L72.80 259.44L72.80 260.35L73.96 260.35M79.00 261.61L75.77 261.61L75.77 261.86L79.00 261.86M79.00 262.12L76.83 262.12L76.83 262.37L79.00 262.37M79.00 262.62L76.13 262.62L76.13 262.88L79.00 262.88M76.83 262.24L75.53 262.24L75.53 262.75L76.13 262.75M75.77 261.73L74.57 261.73L74.57 262.50L75.53 262.50M79.00 263.13L77.04 263.13L77.04 263.39L79.00 263.39M79.00 263.64L75.53 263.64L75.53 263.90L79.00 263.90M79.00 264.15L75.40 264.15L75.40 264.41L79.00 264.41M75.53 263.77L74.71 263.77L74.71 264.28L75.40 264.28M77.04 263.26L73.37 263.26L73.37 264.02L74.71 264.02M74.57 262.12L72.23 262.12L72.23 263.64L73.37 263.64M72.80 259.90L71.14 259.90L71.14 262.88L72.23 262.88M79.00 265.17L74.93 265.17L74.93 265.42L79.00 265.42M79.00 264.91L73.61 264.91L73.61 265.30L74.93 265.30M79.00 264.66L70.57 264.66L70.57 265.10L73.61 265.10M71.14 261.39L69.17 261.39L69.17 264.88L70.57 264.88M79.00 265.93L75.53 265.93L75.53 266.19L79.00 266.19M79.00 265.68L73.61 265.68L73.61 266.06L75.53 266.06M79.00 266.44L73.39 266.44L73.39 266.69L79.00 266.69M73.61 265.87L71.61 265.87L71.61 266.57L73.39 266.57M79.00 266.95L74.53 266.95L74.53 267.20L79.00 267.20M79.00 267.46L76.05 267.46L76.05 267.71L79.00 267.71M79.00 268.22L76.23 268.22L76.23 268.48L79.00 268.48M79.00 267.97L75.69 267.97L75.69 268.35L76.23 268.35M76.05 267.59L74.52 267.59L74.52 268.16L75.69 268.16M74.53 267.08L72.97 267.08L72.97 267.87L74.52 267.87M79.00 268.73L76.23 268.73L76.23 268.98L79.00 268.98M79.00 269.24L75.89 269.24L75.89 269.49L79.00 269.49M76.23 268.86L75.07 268.86L75.07 269.37L75.89 269.37M79.00 269.75L76.26 269.75L76.26 270.00L79.00 270.00M79.00 270.26L74.65 270.26L74.65 270.51L79.00 270.51M76.26 269.87L73.88 269.87L73.88 270.38L74.65 270.38M75.07 269.11L73.15 269.11L73.15 270.13L73.88 270.13M79.00 270.76L76.96 270.76L76.96 271.02L79.00 271.02M79.00 271.27L76.00 271.27L76.00 271.53L79.00 271.53M76.96 270.89L75.29 270.89L75.29 271.40L76.00 271.40M79.00 271.78L76.81 271.78L76.81 272.04L79.00 272.04M79.00 272.55L76.52 272.55L76.52 272.80L79.00 272.80M79.00 272.29L75.69 272.29L75.69 272.67L76.52 272.67M76.81 271.91L74.52 271.91L74.52 272.48L75.69 272.48M75.29 271.15L72.78 271.15L72.78 272.20L74.52 272.20M73.15 269.62L71.66 269.62L71.66 271.67L72.78 271.67M72.97 267.47L70.49 267.47L70.49 270.65L71.66 270.65M71.61 266.22L68.86 266.22L68.86 269.06L70.49 269.06M69.17 263.14L67.37 263.14L67.37 267.64L68.86 267.64M68.21 250.54L66.56 250.54L66.56 265.39L67.37 265.39M67.15 234.99L64.91 234.99L64.91 257.96L66.56 257.96M64.95 191.82L63.40 191.82L63.40 246.47L64.91 246.47" stroke="#000" stroke-width="0.42" fill="none"/>
<path d="M62.6 117.4L37 117.4L37 223.2L63.4 223.2" stroke="#777" stroke-width="0.9" fill="none"/>

<rect x="87.7" y="278.8" width="77.3" height="1.6" fill="#111"/>
<rect x="172.7" y="278.8" width="77.3" height="1.6" fill="#111"/>
<g class="i" font-size="11.5" text-anchor="middle">
<text x="126.5" y="292.6" class="i">Mx1-Cre,</text>
<text x="126.5" y="305.9" class="i">Cbfb<tspan font-size="8.6" font-style="normal" dy="-3.2">+/56M</tspan></text>
<text x="211.5" y="292.3" class="i">Chd7<tspan font-size="8.6" dy="-3.2">f/f</tspan><tspan dy="3.2">,</tspan></text>
<text x="211.5" y="305.9" class="i">Mx1-Cre,</text>
<text x="211.5" y="319" class="i">Cbfb<tspan font-size="8.6" font-style="normal" dy="-3.2">+/56M</tspan></text>
</g>

<!-- ===== Panel B ===== -->
<text class="b" x="270.8" y="19.1" font-size="13.4">B</text>
<text x="460.3" y="22" font-size="10.2" text-anchor="middle">-log(p value)</text>
<g font-size="8" text-anchor="middle">
<text x="409.7" y="36.3">0</text>
<text x="431.3" y="36.3">1</text>
<text x="452.8" y="36.3">2</text>
<text x="474.4" y="36.3">3</text>
<text x="496" y="36.3">4</text>
</g>
<path d="M420.2 41.7V44.5M430.9 41.7V44.5M441.8 41.7V44.5M452.6 41.7V44.5M463.3 41.7V44.5M474.3 41.7V44.5M485 41.7V44.5M495.8 41.7V44.5M506.8 41.7V44.5M409.7 41.7V44.5" stroke="#000" stroke-width="1.1"/>
<g fill="#1f3068">
<rect x="410.5" y="76.6" width="96.5" height="9.2"/>
<rect x="410.5" y="127.3" width="75.8" height="9.3"/>
<rect x="410.5" y="178.3" width="67.8" height="9.3"/>
<rect x="410.5" y="228.9" width="38.7" height="9.3"/>
<rect x="410.5" y="280" width="38.7" height="9.1"/>
</g>
<line x1="436.4" y1="45.6" x2="436.4" y2="320.6" stroke="#be9450" stroke-width="0.85"/>
<text transform="translate(439.3 47.8) rotate(90)" font-size="6" style="fill:#efd3a0;stroke:none">Threshold</text>
<rect x="409.65" y="44.75" width="102.6" height="275.9" fill="none" stroke="#000" stroke-width="1.7"/>
<g font-size="9.3">
<text x="405.8" y="84.7" text-anchor="end">Cell Cycle</text>
<text x="313.8" y="124.2">Hematological System</text>
<text x="313.8" y="135">Development and</text>
<text x="313.8" y="145.4">Function</text>
<text x="324" y="180.9">Cellular Growth and</text>
<text x="324" y="190.8">Proliferation</text>
<text x="347" y="231">Hematological</text>
<text x="347" y="241.6">Disease</text>
<text x="405.6" y="287.7" text-anchor="end">Hematopoiesis</text>
</g>

<!-- ===== Panel C ===== -->
<text class="b" x="8.2" y="351.5" font-size="13.4">C</text>
<circle cx="174.6" cy="454.4" r="86.1" fill="#b05762"/>
<circle cx="131.5" cy="537.3" r="21.6" fill="#5c9e30" fill-opacity="0.73"/>
<circle cx="428.7" cy="471.6" r="60.5" fill="#b05762"/>
<circle cx="346.2" cy="513.4" r="38" fill="#5c9e30" fill-opacity="0.73"/>
<g font-size="11.8" text-anchor="middle">
<text x="175.3" y="360.2" font-size="11.7">RUNX1 known target genes</text>
<text x="177.4" y="452.5" font-size="12" style="fill:#1a0a0e">7804</text>
<text x="137.9" y="529.6" font-size="11.6">128</text>
<text x="130.8" y="547.8" font-size="11.9">375</text>
<text x="425.9" y="391.4">CBFβ-SMMHC</text>
<text x="425.8" y="404.6">known target genes</text>
<text x="428.9" y="475.7" font-size="12.2" style="fill:#1a0a0e">1243</text>
<text x="375.2" y="500.6" font-size="11.3">17</text>
<text x="347" y="528" font-size="12">486</text>
<text x="136" y="571.3">DEGs between</text>
<text x="136" y="585.2"><tspan class="i">Mx1-Cre, Cbfb</tspan><tspan class="i" font-size="8.9" dy="-3.8">+/56M</tspan><tspan dy="3.8"> and</tspan></text>
<text x="136" y="598.8"><tspan class="i">Chd7</tspan><tspan class="i" font-size="8.9" dy="-3.8">f/f</tspan><tspan class="i" dy="3.8">, Mx1-Cre, Cbfb</tspan><tspan class="i" font-size="8.9" dy="-3.8">+/56M</tspan></text>
<text x="351" y="566">DEGs between</text>
<text x="351" y="579.8"><tspan class="i">Mx1-Cre, Cbfb</tspan><tspan class="i" font-size="8.9" dy="-3.8">+/56M</tspan><tspan dy="3.8"> and</tspan></text>
<text x="351" y="593"><tspan class="i">Chd7</tspan><tspan class="i" font-size="8.9" dy="-3.8">f/f</tspan><tspan class="i" dy="3.8">, Mx1-Cre, Cbfb</tspan><tspan class="i" font-size="8.9" dy="-3.8">+/56M</tspan></text>
</g>

<!-- outer border -->
<rect x="0" y="0" width="520" height="1.7" fill="#000"/>
<rect x="0" y="0" width="1.6" height="610" fill="#000"/>
<rect x="518" y="0" width="2" height="610" fill="#000"/>
<rect x="0" y="608" width="520" height="2" fill="#000"/>
</svg>
</body></html>
